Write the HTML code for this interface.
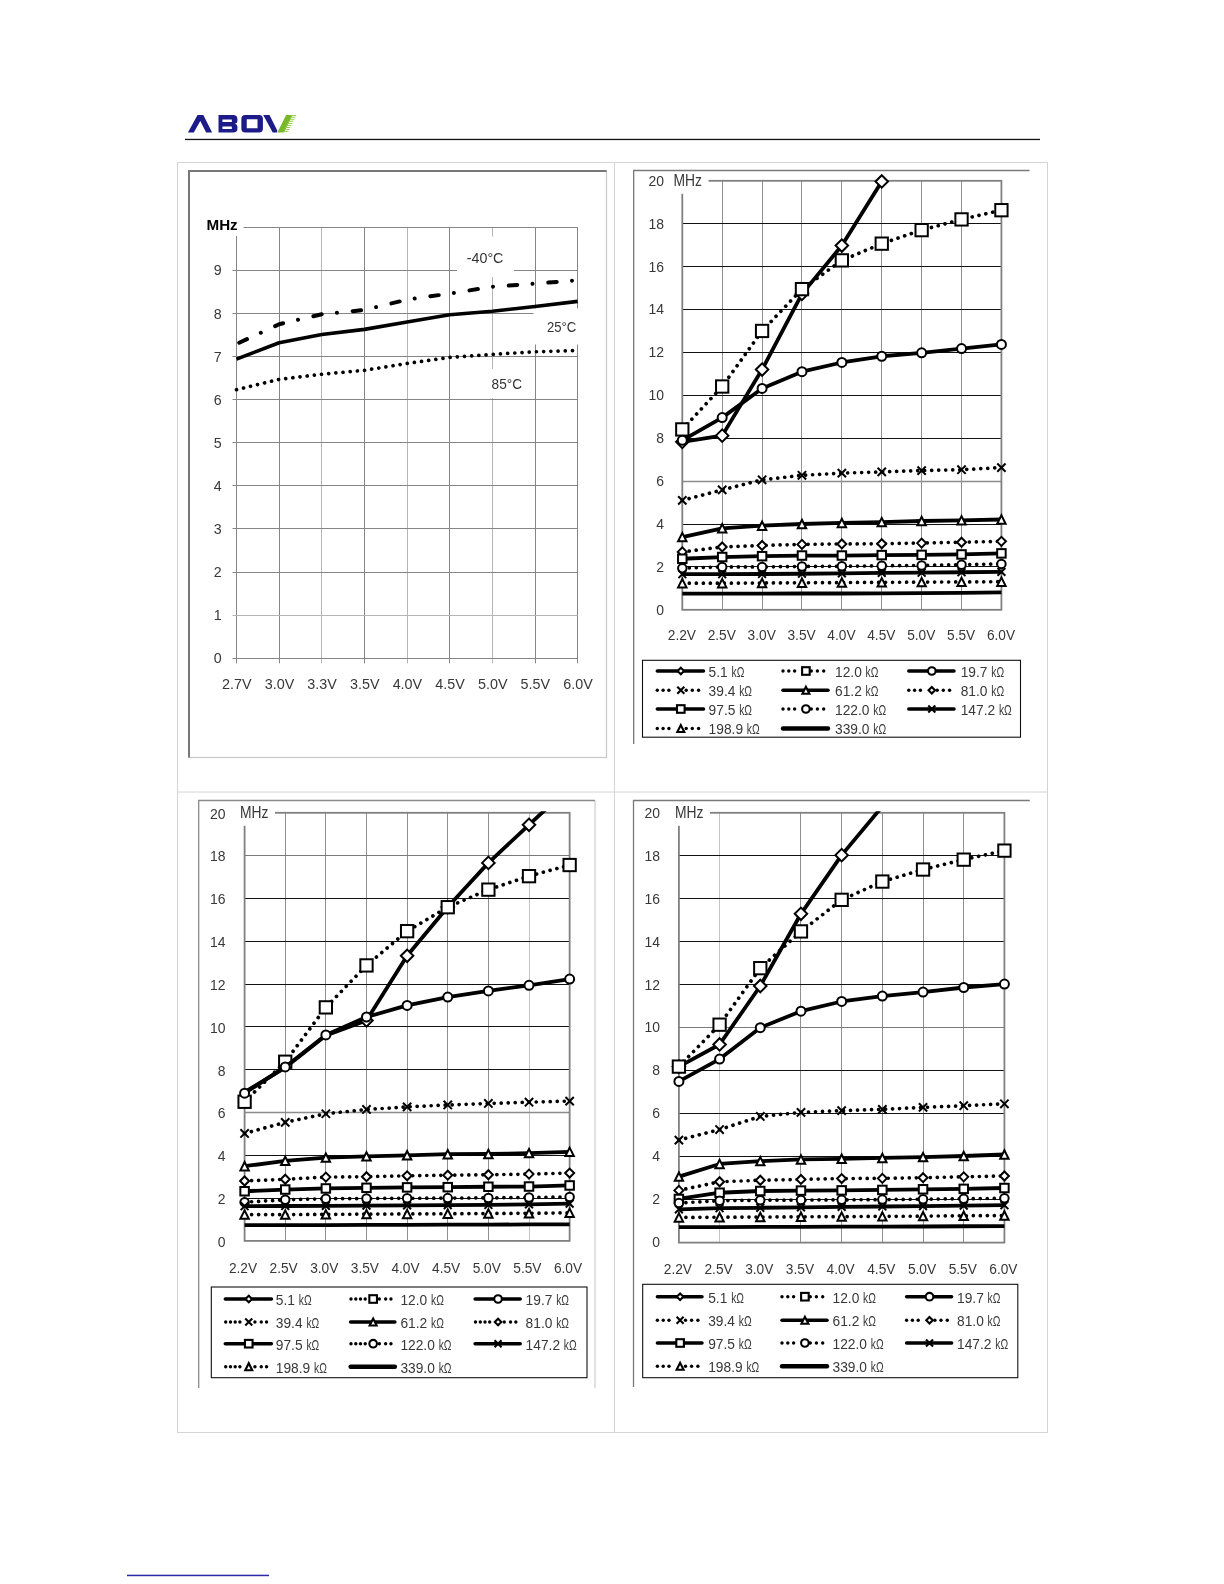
<!DOCTYPE html>
<html><head><meta charset="utf-8"><title>page</title>
<style>
html,body{margin:0;padding:0;background:#fff;}
svg{display:block;will-change:transform;}
text{font-family:"Liberation Sans",sans-serif;}
</style></head><body>
<svg width="1224" height="1584" viewBox="0 0 1224 1584">
<rect x="0" y="0" width="1224" height="1584" fill="#fff"/>
<g transform="translate(184,108) scale(0.09804)">
<path d="M40,250L138,72L197,72L287,250L226,250L166,132L100,250Z" fill="#1d1b87"/>
<path fill-rule="evenodd" d="M352,72H500Q545,72 545,112V130Q545,155 520,160Q545,166 545,192V212Q545,250 500,250H352Z M392,118H488V142H392Z M392,188H488V214H392Z" fill="#1d1b87"/>
<path fill-rule="evenodd" d="M625,72H765Q805,72 805,112V210Q805,250 765,250H625Q585,250 585,210V112Q585,72 625,72Z M640,116H750V206H640Z" fill="#1d1b87"/>
<path d="M808,72L872,72L950,228L948,250L905,250Z" fill="#1d1b87"/>
<path d="M952,250L1042,72L1108,72L1020,250Z" fill="#77b82a"/>
<path d="M1095,72H1142V84H1089Z M1084,94H1136V104H1079Z M1074,114H1126V124H1069Z M1064,134H1114V144H1059Z M1054,154H1104V164H1049Z M1044,174H1094V184H1039Z M1034,194H1084V204H1029Z M1024,214H1074V224H1019Z M1014,234H1064V244H1009Z" fill="#9ccf4d"/>
</g>
<rect x="185" y="138.8" width="855" height="1.3" fill="#111"/>
<rect x="177.5" y="162.5" width="870" height="1270" fill="none" stroke="#d4d4d4" stroke-width="1"/>
<line x1="177.5" y1="792" x2="1047.5" y2="792" stroke="#d4d4d4" stroke-width="1"/>
<line x1="614.5" y1="162.5" x2="614.5" y2="1432.5" stroke="#d4d4d4" stroke-width="1"/>
<rect x="127" y="1574.7" width="142" height="1.5" fill="#2a2aa8"/>
<rect x="189" y="171" width="417.5" height="586.5" fill="#fff" stroke="#c8c8c8" stroke-width="1.2"/>
<path d="M189,757.5V171H606.5" fill="none" stroke="#777" stroke-width="2"/>
<line x1="236.5" y1="227.20" x2="236.5" y2="663.30" stroke="#858585" stroke-width="1"/>
<line x1="279.5" y1="227.20" x2="279.5" y2="663.30" stroke="#858585" stroke-width="1"/>
<line x1="321.5" y1="227.20" x2="321.5" y2="663.30" stroke="#b5b5b5" stroke-width="1"/>
<line x1="364.5" y1="227.20" x2="364.5" y2="663.30" stroke="#858585" stroke-width="1"/>
<line x1="407.5" y1="227.20" x2="407.5" y2="663.30" stroke="#b5b5b5" stroke-width="1"/>
<line x1="449.5" y1="227.20" x2="449.5" y2="663.30" stroke="#858585" stroke-width="1"/>
<line x1="492.5" y1="227.20" x2="492.5" y2="663.30" stroke="#b5b5b5" stroke-width="1"/>
<line x1="535.5" y1="227.20" x2="535.5" y2="663.30" stroke="#858585" stroke-width="1"/>
<line x1="577.5" y1="227.20" x2="577.5" y2="663.30" stroke="#858585" stroke-width="1"/>
<line x1="232.50" y1="658.5" x2="577.70" y2="658.5" stroke="#858585" stroke-width="1"/>
<line x1="232.50" y1="615.5" x2="577.70" y2="615.5" stroke="#b5b5b5" stroke-width="1"/>
<line x1="232.50" y1="572.5" x2="577.70" y2="572.5" stroke="#858585" stroke-width="1"/>
<line x1="232.50" y1="528.5" x2="577.70" y2="528.5" stroke="#858585" stroke-width="1"/>
<line x1="232.50" y1="485.5" x2="577.70" y2="485.5" stroke="#858585" stroke-width="1"/>
<line x1="232.50" y1="442.5" x2="577.70" y2="442.5" stroke="#858585" stroke-width="1"/>
<line x1="232.50" y1="399.5" x2="577.70" y2="399.5" stroke="#858585" stroke-width="1"/>
<line x1="232.50" y1="356.5" x2="577.70" y2="356.5" stroke="#858585" stroke-width="1"/>
<line x1="232.50" y1="313.5" x2="577.70" y2="313.5" stroke="#858585" stroke-width="1"/>
<line x1="232.50" y1="270.5" x2="577.70" y2="270.5" stroke="#858585" stroke-width="1"/>
<line x1="232.50" y1="227.5" x2="577.70" y2="227.5" stroke="#858585" stroke-width="1"/>
<rect x="203" y="212" width="40.5" height="24" fill="#fff"/>
<text x="206.50" y="229.64" font-size="15.2" text-anchor="start" font-weight="bold" fill="#000" >MHz</text>
<text transform="translate(221.70,663.47) scale(0.95,1)" font-size="15" text-anchor="end" font-weight="normal" fill="#383838" >0</text>
<text transform="translate(221.70,620.36) scale(0.95,1)" font-size="15" text-anchor="end" font-weight="normal" fill="#383838" >1</text>
<text transform="translate(221.70,577.25) scale(0.95,1)" font-size="15" text-anchor="end" font-weight="normal" fill="#383838" >2</text>
<text transform="translate(221.70,534.14) scale(0.95,1)" font-size="15" text-anchor="end" font-weight="normal" fill="#383838" >3</text>
<text transform="translate(221.70,491.03) scale(0.95,1)" font-size="15" text-anchor="end" font-weight="normal" fill="#383838" >4</text>
<text transform="translate(221.70,447.92) scale(0.95,1)" font-size="15" text-anchor="end" font-weight="normal" fill="#383838" >5</text>
<text transform="translate(221.70,404.81) scale(0.95,1)" font-size="15" text-anchor="end" font-weight="normal" fill="#383838" >6</text>
<text transform="translate(221.70,361.70) scale(0.95,1)" font-size="15" text-anchor="end" font-weight="normal" fill="#383838" >7</text>
<text transform="translate(221.70,318.59) scale(0.95,1)" font-size="15" text-anchor="end" font-weight="normal" fill="#383838" >8</text>
<text transform="translate(221.70,275.48) scale(0.95,1)" font-size="15" text-anchor="end" font-weight="normal" fill="#383838" >9</text>
<text transform="translate(236.80,688.94) scale(0.945,1)" font-size="15.2" text-anchor="middle" font-weight="normal" fill="#383838" >2.7V</text>
<text transform="translate(279.45,688.94) scale(0.945,1)" font-size="15.2" text-anchor="middle" font-weight="normal" fill="#383838" >3.0V</text>
<text transform="translate(322.10,688.94) scale(0.945,1)" font-size="15.2" text-anchor="middle" font-weight="normal" fill="#383838" >3.3V</text>
<text transform="translate(364.75,688.94) scale(0.945,1)" font-size="15.2" text-anchor="middle" font-weight="normal" fill="#383838" >3.5V</text>
<text transform="translate(407.40,688.94) scale(0.945,1)" font-size="15.2" text-anchor="middle" font-weight="normal" fill="#383838" >4.0V</text>
<text transform="translate(450.05,688.94) scale(0.945,1)" font-size="15.2" text-anchor="middle" font-weight="normal" fill="#383838" >4.5V</text>
<text transform="translate(492.70,688.94) scale(0.945,1)" font-size="15.2" text-anchor="middle" font-weight="normal" fill="#383838" >5.0V</text>
<text transform="translate(535.35,688.94) scale(0.945,1)" font-size="15.2" text-anchor="middle" font-weight="normal" fill="#383838" >5.5V</text>
<text transform="translate(578.00,688.94) scale(0.945,1)" font-size="15.2" text-anchor="middle" font-weight="normal" fill="#383838" >6.0V</text>
<rect x="457" y="236.5" width="57" height="40.5" fill="#fff"/>
<rect x="533.5" y="308.5" width="47" height="36" fill="#fff"/>
<rect x="487" y="369" width="40" height="29" fill="#fff"/>
<polyline points="236.50,389.72 279.15,379.38 321.80,374.21 364.45,370.33 407.10,363.43 449.75,357.39 492.40,354.37 535.05,351.79 577.70,350.49" fill="none" stroke="#000" stroke-width="3.7" stroke-dasharray="0.01 7.2" stroke-linecap="round"/>
<polyline points="236.50,359.12 279.15,342.73 321.80,334.54 364.45,329.37 407.10,322.04 449.75,314.71 492.40,311.26 535.05,306.52 577.70,301.35" fill="none" stroke="#000" stroke-width="3.6" stroke-linejoin="round"/>
<polyline points="236.50,344.03 279.15,324.20 321.80,314.28 364.45,309.97 407.10,299.62 449.75,293.59 492.40,286.69 535.05,283.67 577.70,280.23" fill="none" stroke="#000" stroke-width="4" stroke-dasharray="8.5 15.3 0.01 15.8" stroke-dashoffset="-3" stroke-linecap="round" stroke-linejoin="round"/>
<text transform="translate(466.80,263.19) scale(0.985,1)" font-size="14.5" text-anchor="start" font-weight="normal" fill="#333" >-40&#176;C</text>
<text transform="translate(547.00,331.99) scale(0.905,1)" font-size="14.5" text-anchor="start" font-weight="normal" fill="#333" >25&#176;C</text>
<text transform="translate(491.60,388.89) scale(0.94,1)" font-size="14.5" text-anchor="start" font-weight="normal" fill="#333" >85&#176;C</text>
<path d="M633.7,744V170.5H1029.5" fill="none" stroke="#7a7a7a" stroke-width="1.3"/>
<line x1="722.5" y1="180.80" x2="722.5" y2="609.80" stroke="#909090" stroke-width="1"/>
<line x1="762.5" y1="180.80" x2="762.5" y2="609.80" stroke="#909090" stroke-width="1"/>
<line x1="801.5" y1="180.80" x2="801.5" y2="609.80" stroke="#909090" stroke-width="1"/>
<line x1="841.5" y1="180.80" x2="841.5" y2="609.80" stroke="#909090" stroke-width="1"/>
<line x1="881.5" y1="180.80" x2="881.5" y2="609.80" stroke="#909090" stroke-width="1"/>
<line x1="921.5" y1="180.80" x2="921.5" y2="609.80" stroke="#909090" stroke-width="1"/>
<line x1="961.5" y1="180.80" x2="961.5" y2="609.80" stroke="#909090" stroke-width="1"/>
<line x1="682.30" y1="566.5" x2="1001.42" y2="566.5" stroke="#111" stroke-width="1"/>
<line x1="682.30" y1="524.5" x2="1001.42" y2="524.5" stroke="#111" stroke-width="1"/>
<line x1="682.30" y1="481.5" x2="1001.42" y2="481.5" stroke="#8c8c8c" stroke-width="1.5"/>
<line x1="682.30" y1="438.5" x2="1001.42" y2="438.5" stroke="#111" stroke-width="1"/>
<line x1="682.30" y1="395.5" x2="1001.42" y2="395.5" stroke="#111" stroke-width="1"/>
<line x1="682.30" y1="352.5" x2="1001.42" y2="352.5" stroke="#111" stroke-width="1"/>
<line x1="682.30" y1="309.5" x2="1001.42" y2="309.5" stroke="#111" stroke-width="1"/>
<line x1="682.30" y1="266.5" x2="1001.42" y2="266.5" stroke="#111" stroke-width="1"/>
<line x1="682.30" y1="223.5" x2="1001.42" y2="223.5" stroke="#111" stroke-width="1"/>
<rect x="682.30" y="180.80" width="319.12" height="429.00" fill="none" stroke="#808080" stroke-width="1.8"/>
<rect x="671.50" y="174.80" width="37" height="19" fill="#fff"/>
<text transform="translate(673.50,186.19) scale(0.872,1)" font-size="15.9" text-anchor="start" font-weight="normal" fill="#383838" >MHz</text>
<text transform="translate(664.00,614.78) scale(0.912,1)" font-size="15.3" text-anchor="end" font-weight="normal" fill="#383838" >0</text>
<text transform="translate(664.00,571.88) scale(0.912,1)" font-size="15.3" text-anchor="end" font-weight="normal" fill="#383838" >2</text>
<text transform="translate(664.00,528.98) scale(0.912,1)" font-size="15.3" text-anchor="end" font-weight="normal" fill="#383838" >4</text>
<text transform="translate(664.00,486.08) scale(0.912,1)" font-size="15.3" text-anchor="end" font-weight="normal" fill="#383838" >6</text>
<text transform="translate(664.00,443.18) scale(0.912,1)" font-size="15.3" text-anchor="end" font-weight="normal" fill="#383838" >8</text>
<text transform="translate(664.00,400.28) scale(0.912,1)" font-size="15.3" text-anchor="end" font-weight="normal" fill="#383838" >10</text>
<text transform="translate(664.00,357.38) scale(0.912,1)" font-size="15.3" text-anchor="end" font-weight="normal" fill="#383838" >12</text>
<text transform="translate(664.00,314.48) scale(0.912,1)" font-size="15.3" text-anchor="end" font-weight="normal" fill="#383838" >14</text>
<text transform="translate(664.00,271.58) scale(0.912,1)" font-size="15.3" text-anchor="end" font-weight="normal" fill="#383838" >16</text>
<text transform="translate(664.00,228.68) scale(0.912,1)" font-size="15.3" text-anchor="end" font-weight="normal" fill="#383838" >18</text>
<text transform="translate(664.00,185.78) scale(0.912,1)" font-size="15.3" text-anchor="end" font-weight="normal" fill="#383838" >20</text>
<text transform="translate(681.90,640.25) scale(0.885,1)" font-size="15.5" text-anchor="middle" font-weight="normal" fill="#383838" >2.2V</text>
<text transform="translate(721.79,640.25) scale(0.885,1)" font-size="15.5" text-anchor="middle" font-weight="normal" fill="#383838" >2.5V</text>
<text transform="translate(761.68,640.25) scale(0.885,1)" font-size="15.5" text-anchor="middle" font-weight="normal" fill="#383838" >3.0V</text>
<text transform="translate(801.57,640.25) scale(0.885,1)" font-size="15.5" text-anchor="middle" font-weight="normal" fill="#383838" >3.5V</text>
<text transform="translate(841.46,640.25) scale(0.885,1)" font-size="15.5" text-anchor="middle" font-weight="normal" fill="#383838" >4.0V</text>
<text transform="translate(881.35,640.25) scale(0.885,1)" font-size="15.5" text-anchor="middle" font-weight="normal" fill="#383838" >4.5V</text>
<text transform="translate(921.24,640.25) scale(0.885,1)" font-size="15.5" text-anchor="middle" font-weight="normal" fill="#383838" >5.0V</text>
<text transform="translate(961.13,640.25) scale(0.885,1)" font-size="15.5" text-anchor="middle" font-weight="normal" fill="#383838" >5.5V</text>
<text transform="translate(1001.02,640.25) scale(0.885,1)" font-size="15.5" text-anchor="middle" font-weight="normal" fill="#383838" >6.0V</text>
<clipPath id="c2"><rect x="672.30" y="179.30" width="344.12" height="439.00"/></clipPath>
<polyline clip-path="url(#c2)" points="682.30,441.85 722.19,435.63 762.08,369.56 801.97,293.84 841.86,245.58 881.75,181.44" fill="none" stroke="#000" stroke-width="3.8" stroke-linejoin="round"/>
<path d="M676.05,441.85L682.30,435.60L688.55,441.85L682.30,448.10Z" fill="#fff" stroke="#000" stroke-width="2.0"/>
<path d="M715.94,435.63L722.19,429.38L728.44,435.63L722.19,441.88Z" fill="#fff" stroke="#000" stroke-width="2.0"/>
<path d="M755.83,369.56L762.08,363.31L768.33,369.56L762.08,375.81Z" fill="#fff" stroke="#000" stroke-width="2.0"/>
<path d="M795.72,293.84L801.97,287.59L808.22,293.84L801.97,300.09Z" fill="#fff" stroke="#000" stroke-width="2.0"/>
<path d="M835.61,245.58L841.86,239.33L848.11,245.58L841.86,251.83Z" fill="#fff" stroke="#000" stroke-width="2.0"/>
<path d="M875.50,181.44L881.75,175.19L888.00,181.44L881.75,187.69Z" fill="#fff" stroke="#000" stroke-width="2.0"/>
<polyline clip-path="url(#c2)" points="682.30,429.41 722.19,386.51 762.08,330.95 801.97,289.12 841.86,260.38 881.75,243.65 921.64,230.13 961.53,219.41 1001.42,210.19" fill="none" stroke="#000" stroke-width="3.7" stroke-dasharray="0.01 7" stroke-linecap="round"/>
<rect x="676.15" y="423.26" width="12.3" height="12.3" fill="#fff" stroke="#000" stroke-width="2.0"/>
<rect x="716.04" y="380.36" width="12.3" height="12.3" fill="#fff" stroke="#000" stroke-width="2.0"/>
<rect x="755.93" y="324.80" width="12.3" height="12.3" fill="#fff" stroke="#000" stroke-width="2.0"/>
<rect x="795.82" y="282.97" width="12.3" height="12.3" fill="#fff" stroke="#000" stroke-width="2.0"/>
<rect x="835.71" y="254.23" width="12.3" height="12.3" fill="#fff" stroke="#000" stroke-width="2.0"/>
<rect x="875.60" y="237.50" width="12.3" height="12.3" fill="#fff" stroke="#000" stroke-width="2.0"/>
<rect x="915.49" y="223.98" width="12.3" height="12.3" fill="#fff" stroke="#000" stroke-width="2.0"/>
<rect x="955.38" y="213.26" width="12.3" height="12.3" fill="#fff" stroke="#000" stroke-width="2.0"/>
<rect x="995.27" y="204.04" width="12.3" height="12.3" fill="#fff" stroke="#000" stroke-width="2.0"/>
<polyline clip-path="url(#c2)" points="682.30,440.34 722.19,417.61 762.08,388.44 801.97,371.70 841.86,362.48 881.75,356.26 921.64,352.83 961.53,348.54 1001.42,344.46" fill="none" stroke="#000" stroke-width="3.8" stroke-linejoin="round"/>
<circle cx="682.30" cy="440.34" r="4.5" fill="#fff" stroke="#000" stroke-width="2.0"/>
<circle cx="722.19" cy="417.61" r="4.5" fill="#fff" stroke="#000" stroke-width="2.0"/>
<circle cx="762.08" cy="388.44" r="4.5" fill="#fff" stroke="#000" stroke-width="2.0"/>
<circle cx="801.97" cy="371.70" r="4.5" fill="#fff" stroke="#000" stroke-width="2.0"/>
<circle cx="841.86" cy="362.48" r="4.5" fill="#fff" stroke="#000" stroke-width="2.0"/>
<circle cx="881.75" cy="356.26" r="4.5" fill="#fff" stroke="#000" stroke-width="2.0"/>
<circle cx="921.64" cy="352.83" r="4.5" fill="#fff" stroke="#000" stroke-width="2.0"/>
<circle cx="961.53" cy="348.54" r="4.5" fill="#fff" stroke="#000" stroke-width="2.0"/>
<circle cx="1001.42" cy="344.46" r="4.5" fill="#fff" stroke="#000" stroke-width="2.0"/>
<polyline clip-path="url(#c2)" points="682.30,500.40 722.19,489.89 762.08,479.81 801.97,475.31 841.86,473.16 881.75,471.88 921.64,470.59 961.53,469.73 1001.42,467.59" fill="none" stroke="#000" stroke-width="3.7" stroke-dasharray="0.01 7" stroke-linecap="round"/>
<path d="M678.15,496.25L686.45,504.55M678.15,504.55L686.45,496.25" fill="none" stroke="#000" stroke-width="2.0"/>
<path d="M718.04,485.74L726.34,494.04M718.04,494.04L726.34,485.74" fill="none" stroke="#000" stroke-width="2.0"/>
<path d="M757.93,475.66L766.23,483.96M757.93,483.96L766.23,475.66" fill="none" stroke="#000" stroke-width="2.0"/>
<path d="M797.82,471.16L806.12,479.46M797.82,479.46L806.12,471.16" fill="none" stroke="#000" stroke-width="2.0"/>
<path d="M837.71,469.01L846.01,477.31M837.71,477.31L846.01,469.01" fill="none" stroke="#000" stroke-width="2.0"/>
<path d="M877.60,467.73L885.90,476.03M877.60,476.03L885.90,467.73" fill="none" stroke="#000" stroke-width="2.0"/>
<path d="M917.49,466.44L925.79,474.74M917.49,474.74L925.79,466.44" fill="none" stroke="#000" stroke-width="2.0"/>
<path d="M957.38,465.58L965.68,473.88M957.38,473.88L965.68,465.58" fill="none" stroke="#000" stroke-width="2.0"/>
<path d="M997.27,463.44L1005.57,471.74M997.27,471.74L1005.57,463.44" fill="none" stroke="#000" stroke-width="2.0"/>
<polyline clip-path="url(#c2)" points="682.30,537.08 722.19,528.29 762.08,525.72 801.97,524.00 841.86,522.93 881.75,522.07 921.64,521.00 961.53,520.35 1001.42,519.50" fill="none" stroke="#000" stroke-width="3.8" stroke-linejoin="round"/>
<path d="M678.10,541.28L682.30,532.88L686.50,541.28Z" fill="#fff" stroke="#000" stroke-width="2.0"/>
<path d="M717.99,532.49L722.19,524.09L726.39,532.49Z" fill="#fff" stroke="#000" stroke-width="2.0"/>
<path d="M757.88,529.92L762.08,521.52L766.28,529.92Z" fill="#fff" stroke="#000" stroke-width="2.0"/>
<path d="M797.77,528.20L801.97,519.80L806.17,528.20Z" fill="#fff" stroke="#000" stroke-width="2.0"/>
<path d="M837.66,527.13L841.86,518.73L846.06,527.13Z" fill="#fff" stroke="#000" stroke-width="2.0"/>
<path d="M877.55,526.27L881.75,517.87L885.95,526.27Z" fill="#fff" stroke="#000" stroke-width="2.0"/>
<path d="M917.44,525.20L921.64,516.80L925.84,525.20Z" fill="#fff" stroke="#000" stroke-width="2.0"/>
<path d="M957.33,524.55L961.53,516.15L965.73,524.55Z" fill="#fff" stroke="#000" stroke-width="2.0"/>
<path d="M997.22,523.70L1001.42,515.30L1005.62,523.70Z" fill="#fff" stroke="#000" stroke-width="2.0"/>
<polyline clip-path="url(#c2)" points="682.30,551.88 722.19,546.95 762.08,545.45 801.97,544.38 841.86,543.95 881.75,543.73 921.64,543.09 961.53,542.23 1001.42,541.37" fill="none" stroke="#000" stroke-width="3.7" stroke-dasharray="0.01 7" stroke-linecap="round"/>
<path d="M677.80,551.88L682.30,547.38L686.80,551.88L682.30,556.38Z" fill="#fff" stroke="#000" stroke-width="2.0"/>
<path d="M717.69,546.95L722.19,542.45L726.69,546.95L722.19,551.45Z" fill="#fff" stroke="#000" stroke-width="2.0"/>
<path d="M757.58,545.45L762.08,540.95L766.58,545.45L762.08,549.95Z" fill="#fff" stroke="#000" stroke-width="2.0"/>
<path d="M797.47,544.38L801.97,539.88L806.47,544.38L801.97,548.88Z" fill="#fff" stroke="#000" stroke-width="2.0"/>
<path d="M837.36,543.95L841.86,539.45L846.36,543.95L841.86,548.45Z" fill="#fff" stroke="#000" stroke-width="2.0"/>
<path d="M877.25,543.73L881.75,539.23L886.25,543.73L881.75,548.23Z" fill="#fff" stroke="#000" stroke-width="2.0"/>
<path d="M917.14,543.09L921.64,538.59L926.14,543.09L921.64,547.59Z" fill="#fff" stroke="#000" stroke-width="2.0"/>
<path d="M957.03,542.23L961.53,537.73L966.03,542.23L961.53,546.73Z" fill="#fff" stroke="#000" stroke-width="2.0"/>
<path d="M996.92,541.37L1001.42,536.87L1005.92,541.37L1001.42,545.87Z" fill="#fff" stroke="#000" stroke-width="2.0"/>
<polyline clip-path="url(#c2)" points="682.30,558.75 722.19,557.03 762.08,556.17 801.97,555.53 841.86,555.53 881.75,555.10 921.64,554.89 961.53,554.46 1001.42,553.39" fill="none" stroke="#000" stroke-width="3.8" stroke-linejoin="round"/>
<rect x="678.05" y="554.50" width="8.5" height="8.5" fill="#fff" stroke="#000" stroke-width="2.0"/>
<rect x="717.94" y="552.78" width="8.5" height="8.5" fill="#fff" stroke="#000" stroke-width="2.0"/>
<rect x="757.83" y="551.92" width="8.5" height="8.5" fill="#fff" stroke="#000" stroke-width="2.0"/>
<rect x="797.72" y="551.28" width="8.5" height="8.5" fill="#fff" stroke="#000" stroke-width="2.0"/>
<rect x="837.61" y="551.28" width="8.5" height="8.5" fill="#fff" stroke="#000" stroke-width="2.0"/>
<rect x="877.50" y="550.85" width="8.5" height="8.5" fill="#fff" stroke="#000" stroke-width="2.0"/>
<rect x="917.39" y="550.64" width="8.5" height="8.5" fill="#fff" stroke="#000" stroke-width="2.0"/>
<rect x="957.28" y="550.21" width="8.5" height="8.5" fill="#fff" stroke="#000" stroke-width="2.0"/>
<rect x="997.17" y="549.14" width="8.5" height="8.5" fill="#fff" stroke="#000" stroke-width="2.0"/>
<polyline clip-path="url(#c2)" points="682.30,568.19 722.19,566.90 762.08,566.90 801.97,566.47 841.86,566.26 881.75,565.83 921.64,565.40 961.53,564.75 1001.42,563.90" fill="none" stroke="#000" stroke-width="3.7" stroke-dasharray="0.01 7" stroke-linecap="round"/>
<circle cx="682.30" cy="568.19" r="4.25" fill="#fff" stroke="#000" stroke-width="2.0"/>
<circle cx="722.19" cy="566.90" r="4.25" fill="#fff" stroke="#000" stroke-width="2.0"/>
<circle cx="762.08" cy="566.90" r="4.25" fill="#fff" stroke="#000" stroke-width="2.0"/>
<circle cx="801.97" cy="566.47" r="4.25" fill="#fff" stroke="#000" stroke-width="2.0"/>
<circle cx="841.86" cy="566.26" r="4.25" fill="#fff" stroke="#000" stroke-width="2.0"/>
<circle cx="881.75" cy="565.83" r="4.25" fill="#fff" stroke="#000" stroke-width="2.0"/>
<circle cx="921.64" cy="565.40" r="4.25" fill="#fff" stroke="#000" stroke-width="2.0"/>
<circle cx="961.53" cy="564.75" r="4.25" fill="#fff" stroke="#000" stroke-width="2.0"/>
<circle cx="1001.42" cy="563.90" r="4.25" fill="#fff" stroke="#000" stroke-width="2.0"/>
<polyline clip-path="url(#c2)" points="682.30,574.19 722.19,574.19 762.08,573.98 801.97,573.76 841.86,573.33 881.75,572.91 921.64,572.69 961.53,572.26 1001.42,571.83" fill="none" stroke="#000" stroke-width="3.8" stroke-linejoin="round"/>
<path d="M678.40,570.29L686.20,578.09M678.40,578.09L686.20,570.29" fill="none" stroke="#000" stroke-width="2.0"/>
<path d="M718.29,570.29L726.09,578.09M718.29,578.09L726.09,570.29" fill="none" stroke="#000" stroke-width="2.0"/>
<path d="M758.18,570.08L765.98,577.88M758.18,577.88L765.98,570.08" fill="none" stroke="#000" stroke-width="2.0"/>
<path d="M798.07,569.86L805.87,577.66M798.07,577.66L805.87,569.86" fill="none" stroke="#000" stroke-width="2.0"/>
<path d="M837.96,569.43L845.76,577.23M837.96,577.23L845.76,569.43" fill="none" stroke="#000" stroke-width="2.0"/>
<path d="M877.85,569.01L885.65,576.81M877.85,576.81L885.65,569.01" fill="none" stroke="#000" stroke-width="2.0"/>
<path d="M917.74,568.79L925.54,576.59M917.74,576.59L925.54,568.79" fill="none" stroke="#000" stroke-width="2.0"/>
<path d="M957.63,568.36L965.43,576.16M957.63,576.16L965.43,568.36" fill="none" stroke="#000" stroke-width="2.0"/>
<path d="M997.52,567.93L1005.32,575.73M997.52,575.73L1005.32,567.93" fill="none" stroke="#000" stroke-width="2.0"/>
<polyline clip-path="url(#c2)" points="682.30,583.20 722.19,583.20 762.08,582.99 801.97,582.77 841.86,582.56 881.75,582.34 921.64,582.13 961.53,581.91 1001.42,581.70" fill="none" stroke="#000" stroke-width="3.7" stroke-dasharray="0.01 7" stroke-linecap="round"/>
<path d="M678.10,587.40L682.30,579.00L686.50,587.40Z" fill="#fff" stroke="#000" stroke-width="2.0"/>
<path d="M717.99,587.40L722.19,579.00L726.39,587.40Z" fill="#fff" stroke="#000" stroke-width="2.0"/>
<path d="M757.88,587.19L762.08,578.79L766.28,587.19Z" fill="#fff" stroke="#000" stroke-width="2.0"/>
<path d="M797.77,586.97L801.97,578.57L806.17,586.97Z" fill="#fff" stroke="#000" stroke-width="2.0"/>
<path d="M837.66,586.76L841.86,578.36L846.06,586.76Z" fill="#fff" stroke="#000" stroke-width="2.0"/>
<path d="M877.55,586.54L881.75,578.14L885.95,586.54Z" fill="#fff" stroke="#000" stroke-width="2.0"/>
<path d="M917.44,586.33L921.64,577.93L925.84,586.33Z" fill="#fff" stroke="#000" stroke-width="2.0"/>
<path d="M957.33,586.12L961.53,577.71L965.73,586.12Z" fill="#fff" stroke="#000" stroke-width="2.0"/>
<path d="M997.22,585.90L1001.42,577.50L1005.62,585.90Z" fill="#fff" stroke="#000" stroke-width="2.0"/>
<polyline clip-path="url(#c2)" points="682.30,593.71 722.19,593.71 762.08,593.71 801.97,593.50 841.86,593.50 881.75,593.28 921.64,593.07 961.53,592.85 1001.42,592.43" fill="none" stroke="#000" stroke-width="3.8" stroke-linejoin="round"/>
<rect x="642.5" y="660.3" width="378.0" height="76.90000000000009" fill="#fff" stroke="#111" stroke-width="1.1"/>
<line x1="657.3" y1="671" x2="703.5" y2="671" stroke="#000" stroke-width="3.5" stroke-linecap="round"/>
<path d="M677.55,671.00L680.80,667.75L684.05,671.00L680.80,674.25Z" fill="#fff" stroke="#000" stroke-width="2.1"/>
<text transform="translate(708.60,676.99) scale(0.95,1)" font-size="14.5" text-anchor="start" font-weight="normal" fill="#383838" >5.1 <tspan textLength="13.5" lengthAdjust="spacingAndGlyphs">k&#937;</tspan></text>
<circle cx="783.00" cy="671" r="1.7" fill="#000"/>
<circle cx="788.80" cy="671" r="1.7" fill="#000"/>
<circle cx="794.60" cy="671" r="1.7" fill="#000"/>
<circle cx="811.30" cy="671" r="1.7" fill="#000"/>
<circle cx="817.40" cy="671" r="1.7" fill="#000"/>
<circle cx="823.70" cy="671" r="1.7" fill="#000"/>
<rect x="802.10" y="667.20" width="7.6" height="7.6" fill="#fff" stroke="#000" stroke-width="2.1"/>
<text transform="translate(835.00,676.99) scale(0.95,1)" font-size="14.5" text-anchor="start" font-weight="normal" fill="#383838" >12.0 <tspan textLength="13.5" lengthAdjust="spacingAndGlyphs">k&#937;</tspan></text>
<line x1="908.8" y1="671" x2="954" y2="671" stroke="#000" stroke-width="3.5" stroke-linecap="round"/>
<circle cx="931.80" cy="671.00" r="3.8" fill="#fff" stroke="#000" stroke-width="2.1"/>
<text transform="translate(960.70,676.99) scale(0.95,1)" font-size="14.5" text-anchor="start" font-weight="normal" fill="#383838" >19.7 <tspan textLength="13.5" lengthAdjust="spacingAndGlyphs">k&#937;</tspan></text>
<circle cx="657.30" cy="690.3" r="1.7" fill="#000"/>
<circle cx="663.10" cy="690.3" r="1.7" fill="#000"/>
<circle cx="668.90" cy="690.3" r="1.7" fill="#000"/>
<circle cx="686.20" cy="690.3" r="1.7" fill="#000"/>
<circle cx="692.30" cy="690.3" r="1.7" fill="#000"/>
<circle cx="698.60" cy="690.3" r="1.7" fill="#000"/>
<path d="M677.30,686.80L684.30,693.80M677.30,693.80L684.30,686.80" fill="none" stroke="#000" stroke-width="2.1"/>
<text transform="translate(708.60,696.29) scale(0.95,1)" font-size="14.5" text-anchor="start" font-weight="normal" fill="#383838" >39.4 <tspan textLength="13.5" lengthAdjust="spacingAndGlyphs">k&#937;</tspan></text>
<line x1="783" y1="690.3" x2="828" y2="690.3" stroke="#000" stroke-width="3.5" stroke-linecap="round"/>
<path d="M802.40,693.80L805.90,686.80L809.40,693.80Z" fill="#fff" stroke="#000" stroke-width="2.1"/>
<text transform="translate(835.00,696.29) scale(0.95,1)" font-size="14.5" text-anchor="start" font-weight="normal" fill="#383838" >61.2 <tspan textLength="13.5" lengthAdjust="spacingAndGlyphs">k&#937;</tspan></text>
<circle cx="908.80" cy="690.3" r="1.7" fill="#000"/>
<circle cx="914.60" cy="690.3" r="1.7" fill="#000"/>
<circle cx="920.40" cy="690.3" r="1.7" fill="#000"/>
<circle cx="937.20" cy="690.3" r="1.7" fill="#000"/>
<circle cx="943.30" cy="690.3" r="1.7" fill="#000"/>
<circle cx="949.60" cy="690.3" r="1.7" fill="#000"/>
<path d="M928.55,690.30L931.80,687.05L935.05,690.30L931.80,693.55Z" fill="#fff" stroke="#000" stroke-width="2.1"/>
<text transform="translate(960.70,696.29) scale(0.95,1)" font-size="14.5" text-anchor="start" font-weight="normal" fill="#383838" >81.0 <tspan textLength="13.5" lengthAdjust="spacingAndGlyphs">k&#937;</tspan></text>
<line x1="657.3" y1="709" x2="703.5" y2="709" stroke="#000" stroke-width="3.5" stroke-linecap="round"/>
<rect x="677.00" y="705.20" width="7.6" height="7.6" fill="#fff" stroke="#000" stroke-width="2.1"/>
<text transform="translate(708.60,714.99) scale(0.95,1)" font-size="14.5" text-anchor="start" font-weight="normal" fill="#383838" >97.5 <tspan textLength="13.5" lengthAdjust="spacingAndGlyphs">k&#937;</tspan></text>
<circle cx="783.00" cy="709" r="1.7" fill="#000"/>
<circle cx="788.80" cy="709" r="1.7" fill="#000"/>
<circle cx="794.60" cy="709" r="1.7" fill="#000"/>
<circle cx="811.30" cy="709" r="1.7" fill="#000"/>
<circle cx="817.40" cy="709" r="1.7" fill="#000"/>
<circle cx="823.70" cy="709" r="1.7" fill="#000"/>
<circle cx="805.90" cy="709.00" r="3.8" fill="#fff" stroke="#000" stroke-width="2.1"/>
<text transform="translate(835.00,714.99) scale(0.95,1)" font-size="14.5" text-anchor="start" font-weight="normal" fill="#383838" >122.0 <tspan textLength="13.5" lengthAdjust="spacingAndGlyphs">k&#937;</tspan></text>
<line x1="908.8" y1="709" x2="954" y2="709" stroke="#000" stroke-width="3.5" stroke-linecap="round"/>
<path d="M928.30,705.50L935.30,712.50M928.30,712.50L935.30,705.50" fill="none" stroke="#000" stroke-width="2.1"/>
<text transform="translate(960.70,714.99) scale(0.95,1)" font-size="14.5" text-anchor="start" font-weight="normal" fill="#383838" >147.2 <tspan textLength="13.5" lengthAdjust="spacingAndGlyphs">k&#937;</tspan></text>
<circle cx="657.30" cy="728.5" r="1.7" fill="#000"/>
<circle cx="663.10" cy="728.5" r="1.7" fill="#000"/>
<circle cx="668.90" cy="728.5" r="1.7" fill="#000"/>
<circle cx="686.20" cy="728.5" r="1.7" fill="#000"/>
<circle cx="692.30" cy="728.5" r="1.7" fill="#000"/>
<circle cx="698.60" cy="728.5" r="1.7" fill="#000"/>
<path d="M677.30,732.00L680.80,725.00L684.30,732.00Z" fill="#fff" stroke="#000" stroke-width="2.1"/>
<text transform="translate(708.60,734.49) scale(0.95,1)" font-size="14.5" text-anchor="start" font-weight="normal" fill="#383838" >198.9 <tspan textLength="13.5" lengthAdjust="spacingAndGlyphs">k&#937;</tspan></text>
<line x1="783" y1="728.5" x2="828" y2="728.5" stroke="#000" stroke-width="4.4" stroke-linecap="round"/>
<text transform="translate(835.00,734.49) scale(0.95,1)" font-size="14.5" text-anchor="start" font-weight="normal" fill="#383838" >339.0 <tspan textLength="13.5" lengthAdjust="spacingAndGlyphs">k&#937;</tspan></text>
<path d="M595,800.5V1388" fill="none" stroke="#cdcdcd" stroke-width="1.2"/><path d="M198.7,1388V800.5H595" fill="none" stroke="#8a8a8a" stroke-width="1.3"/>
<line x1="285.5" y1="812.80" x2="285.5" y2="1240.90" stroke="#909090" stroke-width="1"/>
<line x1="325.5" y1="812.80" x2="325.5" y2="1240.90" stroke="#909090" stroke-width="1"/>
<line x1="366.5" y1="812.80" x2="366.5" y2="1240.90" stroke="#909090" stroke-width="1"/>
<line x1="407.5" y1="812.80" x2="407.5" y2="1240.90" stroke="#909090" stroke-width="1"/>
<line x1="447.5" y1="812.80" x2="447.5" y2="1240.90" stroke="#909090" stroke-width="1"/>
<line x1="488.5" y1="812.80" x2="488.5" y2="1240.90" stroke="#909090" stroke-width="1"/>
<line x1="529.5" y1="812.80" x2="529.5" y2="1240.90" stroke="#c4c4c4" stroke-width="1"/>
<line x1="244.60" y1="1198.5" x2="569.64" y2="1198.5" stroke="#111" stroke-width="1"/>
<line x1="244.60" y1="1155.5" x2="569.64" y2="1155.5" stroke="#111" stroke-width="1"/>
<line x1="244.60" y1="1112.5" x2="569.64" y2="1112.5" stroke="#8c8c8c" stroke-width="1.5"/>
<line x1="244.60" y1="1069.5" x2="569.64" y2="1069.5" stroke="#111" stroke-width="1"/>
<line x1="244.60" y1="1026.5" x2="569.64" y2="1026.5" stroke="#111" stroke-width="1"/>
<line x1="244.60" y1="984.5" x2="569.64" y2="984.5" stroke="#111" stroke-width="1"/>
<line x1="244.60" y1="941.5" x2="569.64" y2="941.5" stroke="#111" stroke-width="1"/>
<line x1="244.60" y1="898.5" x2="569.64" y2="898.5" stroke="#111" stroke-width="1"/>
<line x1="244.60" y1="855.5" x2="569.64" y2="855.5" stroke="#7a7a7a" stroke-width="1"/>
<rect x="244.60" y="812.80" width="325.04" height="428.10" fill="none" stroke="#808080" stroke-width="1.8"/>
<rect x="238.00" y="806.80" width="37" height="19" fill="#fff"/>
<text transform="translate(240.00,818.19) scale(0.872,1)" font-size="15.9" text-anchor="start" font-weight="normal" fill="#383838" >MHz</text>
<text transform="translate(225.50,1246.78) scale(0.912,1)" font-size="15.3" text-anchor="end" font-weight="normal" fill="#383838" >0</text>
<text transform="translate(225.50,1203.97) scale(0.912,1)" font-size="15.3" text-anchor="end" font-weight="normal" fill="#383838" >2</text>
<text transform="translate(225.50,1161.16) scale(0.912,1)" font-size="15.3" text-anchor="end" font-weight="normal" fill="#383838" >4</text>
<text transform="translate(225.50,1118.35) scale(0.912,1)" font-size="15.3" text-anchor="end" font-weight="normal" fill="#383838" >6</text>
<text transform="translate(225.50,1075.54) scale(0.912,1)" font-size="15.3" text-anchor="end" font-weight="normal" fill="#383838" >8</text>
<text transform="translate(225.50,1032.73) scale(0.912,1)" font-size="15.3" text-anchor="end" font-weight="normal" fill="#383838" >10</text>
<text transform="translate(225.50,989.92) scale(0.912,1)" font-size="15.3" text-anchor="end" font-weight="normal" fill="#383838" >12</text>
<text transform="translate(225.50,947.11) scale(0.912,1)" font-size="15.3" text-anchor="end" font-weight="normal" fill="#383838" >14</text>
<text transform="translate(225.50,904.30) scale(0.912,1)" font-size="15.3" text-anchor="end" font-weight="normal" fill="#383838" >16</text>
<text transform="translate(225.50,861.49) scale(0.912,1)" font-size="15.3" text-anchor="end" font-weight="normal" fill="#383838" >18</text>
<text transform="translate(225.50,818.68) scale(0.912,1)" font-size="15.3" text-anchor="end" font-weight="normal" fill="#383838" >20</text>
<text transform="translate(243.00,1272.55) scale(0.885,1)" font-size="15.5" text-anchor="middle" font-weight="normal" fill="#383838" >2.2V</text>
<text transform="translate(283.63,1272.55) scale(0.885,1)" font-size="15.5" text-anchor="middle" font-weight="normal" fill="#383838" >2.5V</text>
<text transform="translate(324.26,1272.55) scale(0.885,1)" font-size="15.5" text-anchor="middle" font-weight="normal" fill="#383838" >3.0V</text>
<text transform="translate(364.89,1272.55) scale(0.885,1)" font-size="15.5" text-anchor="middle" font-weight="normal" fill="#383838" >3.5V</text>
<text transform="translate(405.52,1272.55) scale(0.885,1)" font-size="15.5" text-anchor="middle" font-weight="normal" fill="#383838" >4.0V</text>
<text transform="translate(446.15,1272.55) scale(0.885,1)" font-size="15.5" text-anchor="middle" font-weight="normal" fill="#383838" >4.5V</text>
<text transform="translate(486.78,1272.55) scale(0.885,1)" font-size="15.5" text-anchor="middle" font-weight="normal" fill="#383838" >5.0V</text>
<text transform="translate(527.41,1272.55) scale(0.885,1)" font-size="15.5" text-anchor="middle" font-weight="normal" fill="#383838" >5.5V</text>
<text transform="translate(568.04,1272.55) scale(0.885,1)" font-size="15.5" text-anchor="middle" font-weight="normal" fill="#383838" >6.0V</text>
<clipPath id="c3"><rect x="234.60" y="811.30" width="350.04" height="438.10"/></clipPath>
<polyline clip-path="url(#c3)" points="244.60,1092.14 285.23,1067.52 325.86,1035.41 366.49,1020.43 407.12,955.79 447.75,906.98 488.38,862.89 529.01,824.79 569.64,787.11" fill="none" stroke="#000" stroke-width="3.8" stroke-linejoin="round"/>
<path d="M360.24,1020.43L366.49,1014.18L372.74,1020.43L366.49,1026.68Z" fill="#fff" stroke="#000" stroke-width="2.0"/>
<path d="M400.87,955.79L407.12,949.54L413.37,955.79L407.12,962.04Z" fill="#fff" stroke="#000" stroke-width="2.0"/>
<path d="M441.50,906.98L447.75,900.73L454.00,906.98L447.75,913.23Z" fill="#fff" stroke="#000" stroke-width="2.0"/>
<path d="M482.13,862.89L488.38,856.64L494.63,862.89L488.38,869.14Z" fill="#fff" stroke="#000" stroke-width="2.0"/>
<path d="M522.76,824.79L529.01,818.54L535.26,824.79L529.01,831.04Z" fill="#fff" stroke="#000" stroke-width="2.0"/>
<polyline clip-path="url(#c3)" points="244.60,1101.77 285.23,1061.74 325.86,1007.37 366.49,965.42 407.12,931.17 447.75,907.20 488.38,889.64 529.01,876.16 569.64,865.03" fill="none" stroke="#000" stroke-width="3.7" stroke-dasharray="0.01 7" stroke-linecap="round"/>
<rect x="238.45" y="1095.62" width="12.3" height="12.3" fill="#fff" stroke="#000" stroke-width="2.0"/>
<rect x="279.08" y="1055.59" width="12.3" height="12.3" fill="#fff" stroke="#000" stroke-width="2.0"/>
<rect x="319.71" y="1001.22" width="12.3" height="12.3" fill="#fff" stroke="#000" stroke-width="2.0"/>
<rect x="360.34" y="959.27" width="12.3" height="12.3" fill="#fff" stroke="#000" stroke-width="2.0"/>
<rect x="400.97" y="925.02" width="12.3" height="12.3" fill="#fff" stroke="#000" stroke-width="2.0"/>
<rect x="441.60" y="901.05" width="12.3" height="12.3" fill="#fff" stroke="#000" stroke-width="2.0"/>
<rect x="482.23" y="883.49" width="12.3" height="12.3" fill="#fff" stroke="#000" stroke-width="2.0"/>
<rect x="522.86" y="870.01" width="12.3" height="12.3" fill="#fff" stroke="#000" stroke-width="2.0"/>
<rect x="563.49" y="858.88" width="12.3" height="12.3" fill="#fff" stroke="#000" stroke-width="2.0"/>
<polyline clip-path="url(#c3)" points="244.60,1093.21 285.23,1066.88 325.86,1034.98 366.49,1017.00 407.12,1005.45 447.75,997.10 488.38,990.89 529.01,985.32 569.64,979.12" fill="none" stroke="#000" stroke-width="3.8" stroke-linejoin="round"/>
<circle cx="244.60" cy="1093.21" r="4.5" fill="#fff" stroke="#000" stroke-width="2.0"/>
<circle cx="285.23" cy="1066.88" r="4.5" fill="#fff" stroke="#000" stroke-width="2.0"/>
<circle cx="325.86" cy="1034.98" r="4.5" fill="#fff" stroke="#000" stroke-width="2.0"/>
<circle cx="366.49" cy="1017.00" r="4.5" fill="#fff" stroke="#000" stroke-width="2.0"/>
<circle cx="407.12" cy="1005.45" r="4.5" fill="#fff" stroke="#000" stroke-width="2.0"/>
<circle cx="447.75" cy="997.10" r="4.5" fill="#fff" stroke="#000" stroke-width="2.0"/>
<circle cx="488.38" cy="990.89" r="4.5" fill="#fff" stroke="#000" stroke-width="2.0"/>
<circle cx="529.01" cy="985.32" r="4.5" fill="#fff" stroke="#000" stroke-width="2.0"/>
<circle cx="569.64" cy="979.12" r="4.5" fill="#fff" stroke="#000" stroke-width="2.0"/>
<polyline clip-path="url(#c3)" points="244.60,1133.45 285.23,1122.32 325.86,1113.75 366.49,1109.47 407.12,1106.90 447.75,1104.98 488.38,1103.48 529.01,1102.20 569.64,1101.13" fill="none" stroke="#000" stroke-width="3.7" stroke-dasharray="0.01 7" stroke-linecap="round"/>
<path d="M240.45,1129.30L248.75,1137.60M240.45,1137.60L248.75,1129.30" fill="none" stroke="#000" stroke-width="2.0"/>
<path d="M281.08,1118.17L289.38,1126.47M281.08,1126.47L289.38,1118.17" fill="none" stroke="#000" stroke-width="2.0"/>
<path d="M321.71,1109.60L330.01,1117.90M321.71,1117.90L330.01,1109.60" fill="none" stroke="#000" stroke-width="2.0"/>
<path d="M362.34,1105.32L370.64,1113.62M362.34,1113.62L370.64,1105.32" fill="none" stroke="#000" stroke-width="2.0"/>
<path d="M402.97,1102.75L411.27,1111.05M402.97,1111.05L411.27,1102.75" fill="none" stroke="#000" stroke-width="2.0"/>
<path d="M443.60,1100.83L451.90,1109.13M443.60,1109.13L451.90,1100.83" fill="none" stroke="#000" stroke-width="2.0"/>
<path d="M484.23,1099.33L492.53,1107.63M484.23,1107.63L492.53,1099.33" fill="none" stroke="#000" stroke-width="2.0"/>
<path d="M524.86,1098.05L533.16,1106.35M524.86,1106.35L533.16,1098.05" fill="none" stroke="#000" stroke-width="2.0"/>
<path d="M565.49,1096.98L573.79,1105.28M565.49,1105.28L573.79,1096.98" fill="none" stroke="#000" stroke-width="2.0"/>
<polyline clip-path="url(#c3)" points="244.60,1166.20 285.23,1160.85 325.86,1157.63 366.49,1156.35 407.12,1155.28 447.75,1154.21 488.38,1154.00 529.01,1153.14 569.64,1151.86" fill="none" stroke="#000" stroke-width="3.8" stroke-linejoin="round"/>
<path d="M240.40,1170.40L244.60,1162.00L248.80,1170.40Z" fill="#fff" stroke="#000" stroke-width="2.0"/>
<path d="M281.03,1165.05L285.23,1156.65L289.43,1165.05Z" fill="#fff" stroke="#000" stroke-width="2.0"/>
<path d="M321.66,1161.83L325.86,1153.43L330.06,1161.83Z" fill="#fff" stroke="#000" stroke-width="2.0"/>
<path d="M362.29,1160.55L366.49,1152.15L370.69,1160.55Z" fill="#fff" stroke="#000" stroke-width="2.0"/>
<path d="M402.92,1159.48L407.12,1151.08L411.32,1159.48Z" fill="#fff" stroke="#000" stroke-width="2.0"/>
<path d="M443.55,1158.41L447.75,1150.01L451.95,1158.41Z" fill="#fff" stroke="#000" stroke-width="2.0"/>
<path d="M484.18,1158.20L488.38,1149.80L492.58,1158.20Z" fill="#fff" stroke="#000" stroke-width="2.0"/>
<path d="M524.81,1157.34L529.01,1148.94L533.21,1157.34Z" fill="#fff" stroke="#000" stroke-width="2.0"/>
<path d="M565.44,1156.06L569.64,1147.66L573.84,1156.06Z" fill="#fff" stroke="#000" stroke-width="2.0"/>
<polyline clip-path="url(#c3)" points="244.60,1180.97 285.23,1179.25 325.86,1177.11 366.49,1176.69 407.12,1175.83 447.75,1175.19 488.38,1174.76 529.01,1174.12 569.64,1173.05" fill="none" stroke="#000" stroke-width="3.7" stroke-dasharray="0.01 7" stroke-linecap="round"/>
<path d="M240.10,1180.97L244.60,1176.47L249.10,1180.97L244.60,1185.47Z" fill="#fff" stroke="#000" stroke-width="2.0"/>
<path d="M280.73,1179.25L285.23,1174.75L289.73,1179.25L285.23,1183.75Z" fill="#fff" stroke="#000" stroke-width="2.0"/>
<path d="M321.36,1177.11L325.86,1172.61L330.36,1177.11L325.86,1181.61Z" fill="#fff" stroke="#000" stroke-width="2.0"/>
<path d="M361.99,1176.69L366.49,1172.19L370.99,1176.69L366.49,1181.19Z" fill="#fff" stroke="#000" stroke-width="2.0"/>
<path d="M402.62,1175.83L407.12,1171.33L411.62,1175.83L407.12,1180.33Z" fill="#fff" stroke="#000" stroke-width="2.0"/>
<path d="M443.25,1175.19L447.75,1170.69L452.25,1175.19L447.75,1179.69Z" fill="#fff" stroke="#000" stroke-width="2.0"/>
<path d="M483.88,1174.76L488.38,1170.26L492.88,1174.76L488.38,1179.26Z" fill="#fff" stroke="#000" stroke-width="2.0"/>
<path d="M524.51,1174.12L529.01,1169.62L533.51,1174.12L529.01,1178.62Z" fill="#fff" stroke="#000" stroke-width="2.0"/>
<path d="M565.14,1173.05L569.64,1168.55L574.14,1173.05L569.64,1177.55Z" fill="#fff" stroke="#000" stroke-width="2.0"/>
<polyline clip-path="url(#c3)" points="244.60,1191.24 285.23,1189.53 325.86,1188.46 366.49,1187.82 407.12,1187.39 447.75,1187.17 488.38,1186.75 529.01,1186.53 569.64,1185.46" fill="none" stroke="#000" stroke-width="3.8" stroke-linejoin="round"/>
<rect x="240.35" y="1186.99" width="8.5" height="8.5" fill="#fff" stroke="#000" stroke-width="2.0"/>
<rect x="280.98" y="1185.28" width="8.5" height="8.5" fill="#fff" stroke="#000" stroke-width="2.0"/>
<rect x="321.61" y="1184.21" width="8.5" height="8.5" fill="#fff" stroke="#000" stroke-width="2.0"/>
<rect x="362.24" y="1183.57" width="8.5" height="8.5" fill="#fff" stroke="#000" stroke-width="2.0"/>
<rect x="402.87" y="1183.14" width="8.5" height="8.5" fill="#fff" stroke="#000" stroke-width="2.0"/>
<rect x="443.50" y="1182.92" width="8.5" height="8.5" fill="#fff" stroke="#000" stroke-width="2.0"/>
<rect x="484.13" y="1182.50" width="8.5" height="8.5" fill="#fff" stroke="#000" stroke-width="2.0"/>
<rect x="524.76" y="1182.28" width="8.5" height="8.5" fill="#fff" stroke="#000" stroke-width="2.0"/>
<rect x="565.39" y="1181.21" width="8.5" height="8.5" fill="#fff" stroke="#000" stroke-width="2.0"/>
<polyline clip-path="url(#c3)" points="244.60,1202.16 285.23,1199.80 325.86,1198.73 366.49,1198.52 407.12,1198.30 447.75,1198.09 488.38,1197.88 529.01,1197.45 569.64,1197.02" fill="none" stroke="#000" stroke-width="3.7" stroke-dasharray="0.01 7" stroke-linecap="round"/>
<circle cx="244.60" cy="1202.16" r="4.25" fill="#fff" stroke="#000" stroke-width="2.0"/>
<circle cx="285.23" cy="1199.80" r="4.25" fill="#fff" stroke="#000" stroke-width="2.0"/>
<circle cx="325.86" cy="1198.73" r="4.25" fill="#fff" stroke="#000" stroke-width="2.0"/>
<circle cx="366.49" cy="1198.52" r="4.25" fill="#fff" stroke="#000" stroke-width="2.0"/>
<circle cx="407.12" cy="1198.30" r="4.25" fill="#fff" stroke="#000" stroke-width="2.0"/>
<circle cx="447.75" cy="1198.09" r="4.25" fill="#fff" stroke="#000" stroke-width="2.0"/>
<circle cx="488.38" cy="1197.88" r="4.25" fill="#fff" stroke="#000" stroke-width="2.0"/>
<circle cx="529.01" cy="1197.45" r="4.25" fill="#fff" stroke="#000" stroke-width="2.0"/>
<circle cx="569.64" cy="1197.02" r="4.25" fill="#fff" stroke="#000" stroke-width="2.0"/>
<polyline clip-path="url(#c3)" points="244.60,1206.22 285.23,1206.01 325.86,1205.80 366.49,1205.58 407.12,1205.37 447.75,1205.15 488.38,1204.94 529.01,1204.30 569.64,1203.66" fill="none" stroke="#000" stroke-width="3.8" stroke-linejoin="round"/>
<path d="M240.70,1202.32L248.50,1210.12M240.70,1210.12L248.50,1202.32" fill="none" stroke="#000" stroke-width="2.0"/>
<path d="M281.33,1202.11L289.13,1209.91M281.33,1209.91L289.13,1202.11" fill="none" stroke="#000" stroke-width="2.0"/>
<path d="M321.96,1201.90L329.76,1209.70M321.96,1209.70L329.76,1201.90" fill="none" stroke="#000" stroke-width="2.0"/>
<path d="M362.59,1201.68L370.39,1209.48M362.59,1209.48L370.39,1201.68" fill="none" stroke="#000" stroke-width="2.0"/>
<path d="M403.22,1201.47L411.02,1209.27M403.22,1209.27L411.02,1201.47" fill="none" stroke="#000" stroke-width="2.0"/>
<path d="M443.85,1201.25L451.65,1209.05M443.85,1209.05L451.65,1201.25" fill="none" stroke="#000" stroke-width="2.0"/>
<path d="M484.48,1201.04L492.28,1208.84M484.48,1208.84L492.28,1201.04" fill="none" stroke="#000" stroke-width="2.0"/>
<path d="M525.11,1200.40L532.91,1208.20M525.11,1208.20L532.91,1200.40" fill="none" stroke="#000" stroke-width="2.0"/>
<path d="M565.74,1199.76L573.54,1207.56M565.74,1207.56L573.54,1199.76" fill="none" stroke="#000" stroke-width="2.0"/>
<polyline clip-path="url(#c3)" points="244.60,1214.57 285.23,1214.57 325.86,1214.36 366.49,1214.14 407.12,1213.93 447.75,1213.72 488.38,1213.50 529.01,1213.29 569.64,1212.86" fill="none" stroke="#000" stroke-width="3.7" stroke-dasharray="0.01 7" stroke-linecap="round"/>
<path d="M240.40,1218.77L244.60,1210.37L248.80,1218.77Z" fill="#fff" stroke="#000" stroke-width="2.0"/>
<path d="M281.03,1218.77L285.23,1210.37L289.43,1218.77Z" fill="#fff" stroke="#000" stroke-width="2.0"/>
<path d="M321.66,1218.56L325.86,1210.16L330.06,1218.56Z" fill="#fff" stroke="#000" stroke-width="2.0"/>
<path d="M362.29,1218.34L366.49,1209.94L370.69,1218.34Z" fill="#fff" stroke="#000" stroke-width="2.0"/>
<path d="M402.92,1218.13L407.12,1209.73L411.32,1218.13Z" fill="#fff" stroke="#000" stroke-width="2.0"/>
<path d="M443.55,1217.92L447.75,1209.52L451.95,1217.92Z" fill="#fff" stroke="#000" stroke-width="2.0"/>
<path d="M484.18,1217.70L488.38,1209.30L492.58,1217.70Z" fill="#fff" stroke="#000" stroke-width="2.0"/>
<path d="M524.81,1217.49L529.01,1209.09L533.21,1217.49Z" fill="#fff" stroke="#000" stroke-width="2.0"/>
<path d="M565.44,1217.06L569.64,1208.66L573.84,1217.06Z" fill="#fff" stroke="#000" stroke-width="2.0"/>
<polyline clip-path="url(#c3)" points="244.60,1225.06 285.23,1225.06 325.86,1225.06 366.49,1224.85 407.12,1224.85 447.75,1224.63 488.38,1224.63 529.01,1224.42 569.64,1224.42" fill="none" stroke="#000" stroke-width="3.8" stroke-linejoin="round"/>
<rect x="211.3" y="1287" width="375.7" height="90.70000000000005" fill="#fff" stroke="#111" stroke-width="1.1"/>
<line x1="225.3" y1="1299" x2="271.4" y2="1299" stroke="#000" stroke-width="3.5" stroke-linecap="round"/>
<path d="M245.50,1299.00L248.75,1295.75L252.00,1299.00L248.75,1302.25Z" fill="#fff" stroke="#000" stroke-width="2.1"/>
<text transform="translate(275.80,1304.99) scale(0.95,1)" font-size="14.5" text-anchor="start" font-weight="normal" fill="#383838" >5.1 <tspan textLength="13.5" lengthAdjust="spacingAndGlyphs">k&#937;</tspan></text>
<circle cx="351.00" cy="1299" r="1.7" fill="#000"/>
<circle cx="355.80" cy="1299" r="1.7" fill="#000"/>
<circle cx="360.50" cy="1299" r="1.7" fill="#000"/>
<circle cx="365.20" cy="1299" r="1.7" fill="#000"/>
<circle cx="379.35" cy="1299" r="1.7" fill="#000"/>
<circle cx="385.65" cy="1299" r="1.7" fill="#000"/>
<circle cx="390.95" cy="1299" r="1.7" fill="#000"/>
<rect x="369.35" y="1295.20" width="7.6" height="7.6" fill="#fff" stroke="#000" stroke-width="2.1"/>
<text transform="translate(400.40,1304.99) scale(0.95,1)" font-size="14.5" text-anchor="start" font-weight="normal" fill="#383838" >12.0 <tspan textLength="13.5" lengthAdjust="spacingAndGlyphs">k&#937;</tspan></text>
<line x1="475.1" y1="1299" x2="520.2" y2="1299" stroke="#000" stroke-width="3.5" stroke-linecap="round"/>
<circle cx="498.05" cy="1299.00" r="3.8" fill="#fff" stroke="#000" stroke-width="2.1"/>
<text transform="translate(525.60,1304.99) scale(0.95,1)" font-size="14.5" text-anchor="start" font-weight="normal" fill="#383838" >19.7 <tspan textLength="13.5" lengthAdjust="spacingAndGlyphs">k&#937;</tspan></text>
<circle cx="225.70" cy="1322" r="1.7" fill="#000"/>
<circle cx="230.50" cy="1322" r="1.7" fill="#000"/>
<circle cx="235.20" cy="1322" r="1.7" fill="#000"/>
<circle cx="239.90" cy="1322" r="1.7" fill="#000"/>
<circle cx="254.95" cy="1322" r="1.7" fill="#000"/>
<circle cx="261.25" cy="1322" r="1.7" fill="#000"/>
<circle cx="266.55" cy="1322" r="1.7" fill="#000"/>
<path d="M245.25,1318.50L252.25,1325.50M245.25,1325.50L252.25,1318.50" fill="none" stroke="#000" stroke-width="2.1"/>
<text transform="translate(275.80,1327.99) scale(0.95,1)" font-size="14.5" text-anchor="start" font-weight="normal" fill="#383838" >39.4 <tspan textLength="13.5" lengthAdjust="spacingAndGlyphs">k&#937;</tspan></text>
<line x1="350.6" y1="1322" x2="394.9" y2="1322" stroke="#000" stroke-width="3.5" stroke-linecap="round"/>
<path d="M369.65,1325.50L373.15,1318.50L376.65,1325.50Z" fill="#fff" stroke="#000" stroke-width="2.1"/>
<text transform="translate(400.40,1327.99) scale(0.95,1)" font-size="14.5" text-anchor="start" font-weight="normal" fill="#383838" >61.2 <tspan textLength="13.5" lengthAdjust="spacingAndGlyphs">k&#937;</tspan></text>
<circle cx="475.50" cy="1322" r="1.7" fill="#000"/>
<circle cx="480.30" cy="1322" r="1.7" fill="#000"/>
<circle cx="485.00" cy="1322" r="1.7" fill="#000"/>
<circle cx="489.70" cy="1322" r="1.7" fill="#000"/>
<circle cx="504.25" cy="1322" r="1.7" fill="#000"/>
<circle cx="510.55" cy="1322" r="1.7" fill="#000"/>
<circle cx="515.85" cy="1322" r="1.7" fill="#000"/>
<path d="M494.80,1322.00L498.05,1318.75L501.30,1322.00L498.05,1325.25Z" fill="#fff" stroke="#000" stroke-width="2.1"/>
<text transform="translate(525.60,1327.99) scale(0.95,1)" font-size="14.5" text-anchor="start" font-weight="normal" fill="#383838" >81.0 <tspan textLength="13.5" lengthAdjust="spacingAndGlyphs">k&#937;</tspan></text>
<line x1="225.3" y1="1343.7" x2="271.4" y2="1343.7" stroke="#000" stroke-width="3.5" stroke-linecap="round"/>
<rect x="244.95" y="1339.90" width="7.6" height="7.6" fill="#fff" stroke="#000" stroke-width="2.1"/>
<text transform="translate(275.80,1349.69) scale(0.95,1)" font-size="14.5" text-anchor="start" font-weight="normal" fill="#383838" >97.5 <tspan textLength="13.5" lengthAdjust="spacingAndGlyphs">k&#937;</tspan></text>
<circle cx="351.00" cy="1343.7" r="1.7" fill="#000"/>
<circle cx="355.80" cy="1343.7" r="1.7" fill="#000"/>
<circle cx="360.50" cy="1343.7" r="1.7" fill="#000"/>
<circle cx="365.20" cy="1343.7" r="1.7" fill="#000"/>
<circle cx="379.35" cy="1343.7" r="1.7" fill="#000"/>
<circle cx="385.65" cy="1343.7" r="1.7" fill="#000"/>
<circle cx="390.95" cy="1343.7" r="1.7" fill="#000"/>
<circle cx="373.15" cy="1343.70" r="3.8" fill="#fff" stroke="#000" stroke-width="2.1"/>
<text transform="translate(400.40,1349.69) scale(0.95,1)" font-size="14.5" text-anchor="start" font-weight="normal" fill="#383838" >122.0 <tspan textLength="13.5" lengthAdjust="spacingAndGlyphs">k&#937;</tspan></text>
<line x1="475.1" y1="1343.7" x2="520.2" y2="1343.7" stroke="#000" stroke-width="3.5" stroke-linecap="round"/>
<path d="M494.55,1340.20L501.55,1347.20M494.55,1347.20L501.55,1340.20" fill="none" stroke="#000" stroke-width="2.1"/>
<text transform="translate(525.60,1349.69) scale(0.95,1)" font-size="14.5" text-anchor="start" font-weight="normal" fill="#383838" >147.2 <tspan textLength="13.5" lengthAdjust="spacingAndGlyphs">k&#937;</tspan></text>
<circle cx="225.70" cy="1366.7" r="1.7" fill="#000"/>
<circle cx="230.50" cy="1366.7" r="1.7" fill="#000"/>
<circle cx="235.20" cy="1366.7" r="1.7" fill="#000"/>
<circle cx="239.90" cy="1366.7" r="1.7" fill="#000"/>
<circle cx="254.95" cy="1366.7" r="1.7" fill="#000"/>
<circle cx="261.25" cy="1366.7" r="1.7" fill="#000"/>
<circle cx="266.55" cy="1366.7" r="1.7" fill="#000"/>
<path d="M245.25,1370.20L248.75,1363.20L252.25,1370.20Z" fill="#fff" stroke="#000" stroke-width="2.1"/>
<text transform="translate(275.80,1372.69) scale(0.95,1)" font-size="14.5" text-anchor="start" font-weight="normal" fill="#383838" >198.9 <tspan textLength="13.5" lengthAdjust="spacingAndGlyphs">k&#937;</tspan></text>
<line x1="350.6" y1="1366.7" x2="394.9" y2="1366.7" stroke="#000" stroke-width="4.4" stroke-linecap="round"/>
<text transform="translate(400.40,1372.69) scale(0.95,1)" font-size="14.5" text-anchor="start" font-weight="normal" fill="#383838" >339.0 <tspan textLength="13.5" lengthAdjust="spacingAndGlyphs">k&#937;</tspan></text>
<path d="M633.5,1387V800.5H1029.8" fill="none" stroke="#7a7a7a" stroke-width="1.3"/>
<line x1="719.5" y1="812.80" x2="719.5" y2="1242.60" stroke="#c4c4c4" stroke-width="1"/>
<line x1="800.5" y1="812.80" x2="800.5" y2="1242.60" stroke="#909090" stroke-width="1"/>
<line x1="841.5" y1="812.80" x2="841.5" y2="1242.60" stroke="#909090" stroke-width="1"/>
<line x1="882.5" y1="812.80" x2="882.5" y2="1242.60" stroke="#909090" stroke-width="1"/>
<line x1="923.5" y1="812.80" x2="923.5" y2="1242.60" stroke="#909090" stroke-width="1"/>
<line x1="963.5" y1="812.80" x2="963.5" y2="1242.60" stroke="#909090" stroke-width="1"/>
<line x1="678.90" y1="1199.5" x2="1004.42" y2="1199.5" stroke="#111" stroke-width="1"/>
<line x1="678.90" y1="1156.5" x2="1004.42" y2="1156.5" stroke="#111" stroke-width="1"/>
<line x1="678.90" y1="1113.5" x2="1004.42" y2="1113.5" stroke="#111" stroke-width="1"/>
<line x1="678.90" y1="1070.5" x2="1004.42" y2="1070.5" stroke="#111" stroke-width="1"/>
<line x1="678.90" y1="1027.5" x2="1004.42" y2="1027.5" stroke="#7a7a7a" stroke-width="1"/>
<line x1="678.90" y1="984.5" x2="1004.42" y2="984.5" stroke="#111" stroke-width="1"/>
<line x1="678.90" y1="941.5" x2="1004.42" y2="941.5" stroke="#111" stroke-width="1"/>
<line x1="678.90" y1="898.5" x2="1004.42" y2="898.5" stroke="#111" stroke-width="1"/>
<line x1="678.90" y1="855.5" x2="1004.42" y2="855.5" stroke="#111" stroke-width="1"/>
<rect x="678.90" y="812.80" width="325.52" height="429.80" fill="none" stroke="#808080" stroke-width="1.8"/>
<rect x="673.00" y="806.80" width="37" height="19" fill="#fff"/>
<text transform="translate(675.00,818.19) scale(0.872,1)" font-size="15.9" text-anchor="start" font-weight="normal" fill="#383838" >MHz</text>
<text transform="translate(660.00,1247.38) scale(0.912,1)" font-size="15.3" text-anchor="end" font-weight="normal" fill="#383838" >0</text>
<text transform="translate(660.00,1204.40) scale(0.912,1)" font-size="15.3" text-anchor="end" font-weight="normal" fill="#383838" >2</text>
<text transform="translate(660.00,1161.42) scale(0.912,1)" font-size="15.3" text-anchor="end" font-weight="normal" fill="#383838" >4</text>
<text transform="translate(660.00,1118.44) scale(0.912,1)" font-size="15.3" text-anchor="end" font-weight="normal" fill="#383838" >6</text>
<text transform="translate(660.00,1075.46) scale(0.912,1)" font-size="15.3" text-anchor="end" font-weight="normal" fill="#383838" >8</text>
<text transform="translate(660.00,1032.48) scale(0.912,1)" font-size="15.3" text-anchor="end" font-weight="normal" fill="#383838" >10</text>
<text transform="translate(660.00,989.50) scale(0.912,1)" font-size="15.3" text-anchor="end" font-weight="normal" fill="#383838" >12</text>
<text transform="translate(660.00,946.52) scale(0.912,1)" font-size="15.3" text-anchor="end" font-weight="normal" fill="#383838" >14</text>
<text transform="translate(660.00,903.54) scale(0.912,1)" font-size="15.3" text-anchor="end" font-weight="normal" fill="#383838" >16</text>
<text transform="translate(660.00,860.56) scale(0.912,1)" font-size="15.3" text-anchor="end" font-weight="normal" fill="#383838" >18</text>
<text transform="translate(660.00,817.58) scale(0.912,1)" font-size="15.3" text-anchor="end" font-weight="normal" fill="#383838" >20</text>
<text transform="translate(677.90,1273.55) scale(0.885,1)" font-size="15.5" text-anchor="middle" font-weight="normal" fill="#383838" >2.2V</text>
<text transform="translate(718.59,1273.55) scale(0.885,1)" font-size="15.5" text-anchor="middle" font-weight="normal" fill="#383838" >2.5V</text>
<text transform="translate(759.28,1273.55) scale(0.885,1)" font-size="15.5" text-anchor="middle" font-weight="normal" fill="#383838" >3.0V</text>
<text transform="translate(799.97,1273.55) scale(0.885,1)" font-size="15.5" text-anchor="middle" font-weight="normal" fill="#383838" >3.5V</text>
<text transform="translate(840.66,1273.55) scale(0.885,1)" font-size="15.5" text-anchor="middle" font-weight="normal" fill="#383838" >4.0V</text>
<text transform="translate(881.35,1273.55) scale(0.885,1)" font-size="15.5" text-anchor="middle" font-weight="normal" fill="#383838" >4.5V</text>
<text transform="translate(922.04,1273.55) scale(0.885,1)" font-size="15.5" text-anchor="middle" font-weight="normal" fill="#383838" >5.0V</text>
<text transform="translate(962.73,1273.55) scale(0.885,1)" font-size="15.5" text-anchor="middle" font-weight="normal" fill="#383838" >5.5V</text>
<text transform="translate(1003.42,1273.55) scale(0.885,1)" font-size="15.5" text-anchor="middle" font-weight="normal" fill="#383838" >6.0V</text>
<clipPath id="c4"><rect x="668.90" y="811.30" width="350.52" height="439.80"/></clipPath>
<polyline clip-path="url(#c4)" points="678.90,1066.60 719.59,1044.46 760.28,986.01 800.97,913.80 841.66,855.14 882.35,806.35 923.04,756.93 963.73,707.50 1004.42,658.07" fill="none" stroke="#000" stroke-width="3.8" stroke-linejoin="round"/>
<path d="M672.65,1066.60L678.90,1060.35L685.15,1066.60L678.90,1072.85Z" fill="#fff" stroke="#000" stroke-width="2.0"/>
<path d="M713.34,1044.46L719.59,1038.21L725.84,1044.46L719.59,1050.71Z" fill="#fff" stroke="#000" stroke-width="2.0"/>
<path d="M754.03,986.01L760.28,979.76L766.53,986.01L760.28,992.26Z" fill="#fff" stroke="#000" stroke-width="2.0"/>
<path d="M794.72,913.80L800.97,907.55L807.22,913.80L800.97,920.05Z" fill="#fff" stroke="#000" stroke-width="2.0"/>
<path d="M835.41,855.14L841.66,848.89L847.91,855.14L841.66,861.39Z" fill="#fff" stroke="#000" stroke-width="2.0"/>
<polyline clip-path="url(#c4)" points="678.90,1066.60 719.59,1024.69 760.28,968.17 800.97,931.42 841.66,899.83 882.35,881.57 923.04,869.53 963.73,859.65 1004.42,850.62" fill="none" stroke="#000" stroke-width="3.7" stroke-dasharray="0.01 7" stroke-linecap="round"/>
<rect x="672.75" y="1060.45" width="12.3" height="12.3" fill="#fff" stroke="#000" stroke-width="2.0"/>
<rect x="713.44" y="1018.54" width="12.3" height="12.3" fill="#fff" stroke="#000" stroke-width="2.0"/>
<rect x="754.13" y="962.02" width="12.3" height="12.3" fill="#fff" stroke="#000" stroke-width="2.0"/>
<rect x="794.82" y="925.27" width="12.3" height="12.3" fill="#fff" stroke="#000" stroke-width="2.0"/>
<rect x="835.51" y="893.68" width="12.3" height="12.3" fill="#fff" stroke="#000" stroke-width="2.0"/>
<rect x="876.20" y="875.42" width="12.3" height="12.3" fill="#fff" stroke="#000" stroke-width="2.0"/>
<rect x="916.89" y="863.38" width="12.3" height="12.3" fill="#fff" stroke="#000" stroke-width="2.0"/>
<rect x="957.58" y="853.50" width="12.3" height="12.3" fill="#fff" stroke="#000" stroke-width="2.0"/>
<rect x="998.27" y="844.47" width="12.3" height="12.3" fill="#fff" stroke="#000" stroke-width="2.0"/>
<polyline clip-path="url(#c4)" points="678.90,1081.42 719.59,1059.08 760.28,1027.70 800.97,1011.15 841.66,1001.48 882.35,996.11 923.04,992.03 963.73,987.51 1004.42,984.08" fill="none" stroke="#000" stroke-width="3.8" stroke-linejoin="round"/>
<circle cx="678.90" cy="1081.42" r="4.5" fill="#fff" stroke="#000" stroke-width="2.0"/>
<circle cx="719.59" cy="1059.08" r="4.5" fill="#fff" stroke="#000" stroke-width="2.0"/>
<circle cx="760.28" cy="1027.70" r="4.5" fill="#fff" stroke="#000" stroke-width="2.0"/>
<circle cx="800.97" cy="1011.15" r="4.5" fill="#fff" stroke="#000" stroke-width="2.0"/>
<circle cx="841.66" cy="1001.48" r="4.5" fill="#fff" stroke="#000" stroke-width="2.0"/>
<circle cx="882.35" cy="996.11" r="4.5" fill="#fff" stroke="#000" stroke-width="2.0"/>
<circle cx="923.04" cy="992.03" r="4.5" fill="#fff" stroke="#000" stroke-width="2.0"/>
<circle cx="963.73" cy="987.51" r="4.5" fill="#fff" stroke="#000" stroke-width="2.0"/>
<circle cx="1004.42" cy="984.08" r="4.5" fill="#fff" stroke="#000" stroke-width="2.0"/>
<polyline clip-path="url(#c4)" points="678.90,1140.09 719.59,1129.56 760.28,1116.45 800.97,1112.37 841.66,1110.65 882.35,1109.36 923.04,1107.43 963.73,1105.71 1004.42,1103.77" fill="none" stroke="#000" stroke-width="3.7" stroke-dasharray="0.01 7" stroke-linecap="round"/>
<path d="M674.75,1135.94L683.05,1144.24M674.75,1144.24L683.05,1135.94" fill="none" stroke="#000" stroke-width="2.0"/>
<path d="M715.44,1125.41L723.74,1133.71M715.44,1133.71L723.74,1125.41" fill="none" stroke="#000" stroke-width="2.0"/>
<path d="M756.13,1112.30L764.43,1120.60M756.13,1120.60L764.43,1112.30" fill="none" stroke="#000" stroke-width="2.0"/>
<path d="M796.82,1108.22L805.12,1116.52M796.82,1116.52L805.12,1108.22" fill="none" stroke="#000" stroke-width="2.0"/>
<path d="M837.51,1106.50L845.81,1114.80M837.51,1114.80L845.81,1106.50" fill="none" stroke="#000" stroke-width="2.0"/>
<path d="M878.20,1105.21L886.50,1113.51M878.20,1113.51L886.50,1105.21" fill="none" stroke="#000" stroke-width="2.0"/>
<path d="M918.89,1103.28L927.19,1111.58M918.89,1111.58L927.19,1103.28" fill="none" stroke="#000" stroke-width="2.0"/>
<path d="M959.58,1101.56L967.88,1109.86M959.58,1109.86L967.88,1101.56" fill="none" stroke="#000" stroke-width="2.0"/>
<path d="M1000.27,1099.62L1008.57,1107.92M1000.27,1107.92L1008.57,1099.62" fill="none" stroke="#000" stroke-width="2.0"/>
<polyline clip-path="url(#c4)" points="678.90,1176.63 719.59,1163.95 760.28,1161.15 800.97,1159.43 841.66,1158.79 882.35,1157.93 923.04,1157.07 963.73,1156.00 1004.42,1154.49" fill="none" stroke="#000" stroke-width="3.8" stroke-linejoin="round"/>
<path d="M674.70,1180.83L678.90,1172.43L683.10,1180.83Z" fill="#fff" stroke="#000" stroke-width="2.0"/>
<path d="M715.39,1168.15L719.59,1159.75L723.79,1168.15Z" fill="#fff" stroke="#000" stroke-width="2.0"/>
<path d="M756.08,1165.35L760.28,1156.95L764.48,1165.35Z" fill="#fff" stroke="#000" stroke-width="2.0"/>
<path d="M796.77,1163.63L800.97,1155.23L805.17,1163.63Z" fill="#fff" stroke="#000" stroke-width="2.0"/>
<path d="M837.46,1162.99L841.66,1154.59L845.86,1162.99Z" fill="#fff" stroke="#000" stroke-width="2.0"/>
<path d="M878.15,1162.13L882.35,1153.73L886.55,1162.13Z" fill="#fff" stroke="#000" stroke-width="2.0"/>
<path d="M918.84,1161.27L923.04,1152.87L927.24,1161.27Z" fill="#fff" stroke="#000" stroke-width="2.0"/>
<path d="M959.53,1160.20L963.73,1151.80L967.93,1160.20Z" fill="#fff" stroke="#000" stroke-width="2.0"/>
<path d="M1000.22,1158.69L1004.42,1150.29L1008.62,1158.69Z" fill="#fff" stroke="#000" stroke-width="2.0"/>
<polyline clip-path="url(#c4)" points="678.90,1190.38 719.59,1181.78 760.28,1180.28 800.97,1179.42 841.66,1178.56 882.35,1178.34 923.04,1177.70 963.73,1176.84 1004.42,1175.98" fill="none" stroke="#000" stroke-width="3.7" stroke-dasharray="0.01 7" stroke-linecap="round"/>
<path d="M674.40,1190.38L678.90,1185.88L683.40,1190.38L678.90,1194.88Z" fill="#fff" stroke="#000" stroke-width="2.0"/>
<path d="M715.09,1181.78L719.59,1177.28L724.09,1181.78L719.59,1186.28Z" fill="#fff" stroke="#000" stroke-width="2.0"/>
<path d="M755.78,1180.28L760.28,1175.78L764.78,1180.28L760.28,1184.78Z" fill="#fff" stroke="#000" stroke-width="2.0"/>
<path d="M796.47,1179.42L800.97,1174.92L805.47,1179.42L800.97,1183.92Z" fill="#fff" stroke="#000" stroke-width="2.0"/>
<path d="M837.16,1178.56L841.66,1174.06L846.16,1178.56L841.66,1183.06Z" fill="#fff" stroke="#000" stroke-width="2.0"/>
<path d="M877.85,1178.34L882.35,1173.84L886.85,1178.34L882.35,1182.84Z" fill="#fff" stroke="#000" stroke-width="2.0"/>
<path d="M918.54,1177.70L923.04,1173.20L927.54,1177.70L923.04,1182.20Z" fill="#fff" stroke="#000" stroke-width="2.0"/>
<path d="M959.23,1176.84L963.73,1172.34L968.23,1176.84L963.73,1181.34Z" fill="#fff" stroke="#000" stroke-width="2.0"/>
<path d="M999.92,1175.98L1004.42,1171.48L1008.92,1175.98L1004.42,1180.48Z" fill="#fff" stroke="#000" stroke-width="2.0"/>
<polyline clip-path="url(#c4)" points="678.90,1198.98 719.59,1192.74 760.28,1191.02 800.97,1190.59 841.66,1190.38 882.35,1189.95 923.04,1189.30 963.73,1188.88 1004.42,1188.02" fill="none" stroke="#000" stroke-width="3.8" stroke-linejoin="round"/>
<rect x="674.65" y="1194.73" width="8.5" height="8.5" fill="#fff" stroke="#000" stroke-width="2.0"/>
<rect x="715.34" y="1188.49" width="8.5" height="8.5" fill="#fff" stroke="#000" stroke-width="2.0"/>
<rect x="756.03" y="1186.77" width="8.5" height="8.5" fill="#fff" stroke="#000" stroke-width="2.0"/>
<rect x="796.72" y="1186.34" width="8.5" height="8.5" fill="#fff" stroke="#000" stroke-width="2.0"/>
<rect x="837.41" y="1186.13" width="8.5" height="8.5" fill="#fff" stroke="#000" stroke-width="2.0"/>
<rect x="878.10" y="1185.70" width="8.5" height="8.5" fill="#fff" stroke="#000" stroke-width="2.0"/>
<rect x="918.79" y="1185.05" width="8.5" height="8.5" fill="#fff" stroke="#000" stroke-width="2.0"/>
<rect x="959.48" y="1184.62" width="8.5" height="8.5" fill="#fff" stroke="#000" stroke-width="2.0"/>
<rect x="1000.17" y="1183.77" width="8.5" height="8.5" fill="#fff" stroke="#000" stroke-width="2.0"/>
<polyline clip-path="url(#c4)" points="678.90,1203.06 719.59,1200.69 760.28,1200.26 800.97,1200.05 841.66,1199.83 882.35,1199.62 923.04,1199.19 963.73,1198.76 1004.42,1198.33" fill="none" stroke="#000" stroke-width="3.7" stroke-dasharray="0.01 7" stroke-linecap="round"/>
<circle cx="678.90" cy="1203.06" r="4.25" fill="#fff" stroke="#000" stroke-width="2.0"/>
<circle cx="719.59" cy="1200.69" r="4.25" fill="#fff" stroke="#000" stroke-width="2.0"/>
<circle cx="760.28" cy="1200.26" r="4.25" fill="#fff" stroke="#000" stroke-width="2.0"/>
<circle cx="800.97" cy="1200.05" r="4.25" fill="#fff" stroke="#000" stroke-width="2.0"/>
<circle cx="841.66" cy="1199.83" r="4.25" fill="#fff" stroke="#000" stroke-width="2.0"/>
<circle cx="882.35" cy="1199.62" r="4.25" fill="#fff" stroke="#000" stroke-width="2.0"/>
<circle cx="923.04" cy="1199.19" r="4.25" fill="#fff" stroke="#000" stroke-width="2.0"/>
<circle cx="963.73" cy="1198.76" r="4.25" fill="#fff" stroke="#000" stroke-width="2.0"/>
<circle cx="1004.42" cy="1198.33" r="4.25" fill="#fff" stroke="#000" stroke-width="2.0"/>
<polyline clip-path="url(#c4)" points="678.90,1209.29 719.59,1208.22 760.28,1207.79 800.97,1207.36 841.66,1206.93 882.35,1206.50 923.04,1206.07 963.73,1205.64 1004.42,1205.21" fill="none" stroke="#000" stroke-width="3.8" stroke-linejoin="round"/>
<path d="M675.00,1205.39L682.80,1213.19M675.00,1213.19L682.80,1205.39" fill="none" stroke="#000" stroke-width="2.0"/>
<path d="M715.69,1204.32L723.49,1212.12M715.69,1212.12L723.49,1204.32" fill="none" stroke="#000" stroke-width="2.0"/>
<path d="M756.38,1203.89L764.18,1211.69M756.38,1211.69L764.18,1203.89" fill="none" stroke="#000" stroke-width="2.0"/>
<path d="M797.07,1203.46L804.87,1211.26M797.07,1211.26L804.87,1203.46" fill="none" stroke="#000" stroke-width="2.0"/>
<path d="M837.76,1203.03L845.56,1210.83M837.76,1210.83L845.56,1203.03" fill="none" stroke="#000" stroke-width="2.0"/>
<path d="M878.45,1202.60L886.25,1210.40M878.45,1210.40L886.25,1202.60" fill="none" stroke="#000" stroke-width="2.0"/>
<path d="M919.14,1202.17L926.94,1209.97M919.14,1209.97L926.94,1202.17" fill="none" stroke="#000" stroke-width="2.0"/>
<path d="M959.83,1201.74L967.63,1209.54M959.83,1209.54L967.63,1201.74" fill="none" stroke="#000" stroke-width="2.0"/>
<path d="M1000.52,1201.31L1008.32,1209.11M1000.52,1209.11L1008.32,1201.31" fill="none" stroke="#000" stroke-width="2.0"/>
<polyline clip-path="url(#c4)" points="678.90,1217.46 719.59,1217.24 760.28,1217.03 800.97,1216.81 841.66,1216.60 882.35,1216.38 923.04,1216.17 963.73,1215.74 1004.42,1215.52" fill="none" stroke="#000" stroke-width="3.7" stroke-dasharray="0.01 7" stroke-linecap="round"/>
<path d="M674.70,1221.66L678.90,1213.26L683.10,1221.66Z" fill="#fff" stroke="#000" stroke-width="2.0"/>
<path d="M715.39,1221.44L719.59,1213.04L723.79,1221.44Z" fill="#fff" stroke="#000" stroke-width="2.0"/>
<path d="M756.08,1221.23L760.28,1212.83L764.48,1221.23Z" fill="#fff" stroke="#000" stroke-width="2.0"/>
<path d="M796.77,1221.01L800.97,1212.61L805.17,1221.01Z" fill="#fff" stroke="#000" stroke-width="2.0"/>
<path d="M837.46,1220.80L841.66,1212.40L845.86,1220.80Z" fill="#fff" stroke="#000" stroke-width="2.0"/>
<path d="M878.15,1220.58L882.35,1212.18L886.55,1220.58Z" fill="#fff" stroke="#000" stroke-width="2.0"/>
<path d="M918.84,1220.37L923.04,1211.97L927.24,1220.37Z" fill="#fff" stroke="#000" stroke-width="2.0"/>
<path d="M959.53,1219.94L963.73,1211.54L967.93,1219.94Z" fill="#fff" stroke="#000" stroke-width="2.0"/>
<path d="M1000.22,1219.72L1004.42,1211.32L1008.62,1219.72Z" fill="#fff" stroke="#000" stroke-width="2.0"/>
<polyline clip-path="url(#c4)" points="678.90,1227.13 719.59,1227.13 760.28,1226.91 800.97,1226.91 841.66,1226.70 882.35,1226.70 923.04,1226.48 963.73,1226.27 1004.42,1226.05" fill="none" stroke="#000" stroke-width="3.8" stroke-linejoin="round"/>
<rect x="642.7" y="1284.3" width="375.0999999999999" height="93.40000000000009" fill="#fff" stroke="#111" stroke-width="1.1"/>
<line x1="657.4" y1="1296.7" x2="702" y2="1296.7" stroke="#000" stroke-width="3.5" stroke-linecap="round"/>
<path d="M676.85,1296.70L680.10,1293.45L683.35,1296.70L680.10,1299.95Z" fill="#fff" stroke="#000" stroke-width="2.1"/>
<text transform="translate(708.20,1302.69) scale(0.95,1)" font-size="14.5" text-anchor="start" font-weight="normal" fill="#383838" >5.1 <tspan textLength="13.5" lengthAdjust="spacingAndGlyphs">k&#937;</tspan></text>
<circle cx="782.00" cy="1296.7" r="1.7" fill="#000"/>
<circle cx="787.80" cy="1296.7" r="1.7" fill="#000"/>
<circle cx="793.60" cy="1296.7" r="1.7" fill="#000"/>
<circle cx="810.30" cy="1296.7" r="1.7" fill="#000"/>
<circle cx="816.40" cy="1296.7" r="1.7" fill="#000"/>
<circle cx="822.70" cy="1296.7" r="1.7" fill="#000"/>
<rect x="801.10" y="1292.90" width="7.6" height="7.6" fill="#fff" stroke="#000" stroke-width="2.1"/>
<text transform="translate(832.50,1302.69) scale(0.95,1)" font-size="14.5" text-anchor="start" font-weight="normal" fill="#383838" >12.0 <tspan textLength="13.5" lengthAdjust="spacingAndGlyphs">k&#937;</tspan></text>
<line x1="906.6" y1="1296.7" x2="951.6" y2="1296.7" stroke="#000" stroke-width="3.5" stroke-linecap="round"/>
<circle cx="929.50" cy="1296.70" r="3.8" fill="#fff" stroke="#000" stroke-width="2.1"/>
<text transform="translate(957.00,1302.69) scale(0.95,1)" font-size="14.5" text-anchor="start" font-weight="normal" fill="#383838" >19.7 <tspan textLength="13.5" lengthAdjust="spacingAndGlyphs">k&#937;</tspan></text>
<circle cx="657.40" cy="1320.3" r="1.7" fill="#000"/>
<circle cx="663.20" cy="1320.3" r="1.7" fill="#000"/>
<circle cx="669.00" cy="1320.3" r="1.7" fill="#000"/>
<circle cx="685.50" cy="1320.3" r="1.7" fill="#000"/>
<circle cx="691.60" cy="1320.3" r="1.7" fill="#000"/>
<circle cx="697.90" cy="1320.3" r="1.7" fill="#000"/>
<path d="M676.60,1316.80L683.60,1323.80M676.60,1323.80L683.60,1316.80" fill="none" stroke="#000" stroke-width="2.1"/>
<text transform="translate(708.20,1326.29) scale(0.95,1)" font-size="14.5" text-anchor="start" font-weight="normal" fill="#383838" >39.4 <tspan textLength="13.5" lengthAdjust="spacingAndGlyphs">k&#937;</tspan></text>
<line x1="782" y1="1320.3" x2="827" y2="1320.3" stroke="#000" stroke-width="3.5" stroke-linecap="round"/>
<path d="M801.40,1323.80L804.90,1316.80L808.40,1323.80Z" fill="#fff" stroke="#000" stroke-width="2.1"/>
<text transform="translate(832.50,1326.29) scale(0.95,1)" font-size="14.5" text-anchor="start" font-weight="normal" fill="#383838" >61.2 <tspan textLength="13.5" lengthAdjust="spacingAndGlyphs">k&#937;</tspan></text>
<circle cx="906.60" cy="1320.3" r="1.7" fill="#000"/>
<circle cx="912.40" cy="1320.3" r="1.7" fill="#000"/>
<circle cx="918.20" cy="1320.3" r="1.7" fill="#000"/>
<circle cx="934.90" cy="1320.3" r="1.7" fill="#000"/>
<circle cx="941.00" cy="1320.3" r="1.7" fill="#000"/>
<circle cx="947.30" cy="1320.3" r="1.7" fill="#000"/>
<path d="M926.25,1320.30L929.50,1317.05L932.75,1320.30L929.50,1323.55Z" fill="#fff" stroke="#000" stroke-width="2.1"/>
<text transform="translate(957.00,1326.29) scale(0.95,1)" font-size="14.5" text-anchor="start" font-weight="normal" fill="#383838" >81.0 <tspan textLength="13.5" lengthAdjust="spacingAndGlyphs">k&#937;</tspan></text>
<line x1="657.4" y1="1343" x2="702" y2="1343" stroke="#000" stroke-width="3.5" stroke-linecap="round"/>
<rect x="676.30" y="1339.20" width="7.6" height="7.6" fill="#fff" stroke="#000" stroke-width="2.1"/>
<text transform="translate(708.20,1348.99) scale(0.95,1)" font-size="14.5" text-anchor="start" font-weight="normal" fill="#383838" >97.5 <tspan textLength="13.5" lengthAdjust="spacingAndGlyphs">k&#937;</tspan></text>
<circle cx="782.00" cy="1343" r="1.7" fill="#000"/>
<circle cx="787.80" cy="1343" r="1.7" fill="#000"/>
<circle cx="793.60" cy="1343" r="1.7" fill="#000"/>
<circle cx="810.30" cy="1343" r="1.7" fill="#000"/>
<circle cx="816.40" cy="1343" r="1.7" fill="#000"/>
<circle cx="822.70" cy="1343" r="1.7" fill="#000"/>
<circle cx="804.90" cy="1343.00" r="3.8" fill="#fff" stroke="#000" stroke-width="2.1"/>
<text transform="translate(832.50,1348.99) scale(0.95,1)" font-size="14.5" text-anchor="start" font-weight="normal" fill="#383838" >122.0 <tspan textLength="13.5" lengthAdjust="spacingAndGlyphs">k&#937;</tspan></text>
<line x1="906.6" y1="1343" x2="951.6" y2="1343" stroke="#000" stroke-width="3.5" stroke-linecap="round"/>
<path d="M926.00,1339.50L933.00,1346.50M926.00,1346.50L933.00,1339.50" fill="none" stroke="#000" stroke-width="2.1"/>
<text transform="translate(957.00,1348.99) scale(0.95,1)" font-size="14.5" text-anchor="start" font-weight="normal" fill="#383838" >147.2 <tspan textLength="13.5" lengthAdjust="spacingAndGlyphs">k&#937;</tspan></text>
<circle cx="657.40" cy="1366.3" r="1.7" fill="#000"/>
<circle cx="663.20" cy="1366.3" r="1.7" fill="#000"/>
<circle cx="669.00" cy="1366.3" r="1.7" fill="#000"/>
<circle cx="685.50" cy="1366.3" r="1.7" fill="#000"/>
<circle cx="691.60" cy="1366.3" r="1.7" fill="#000"/>
<circle cx="697.90" cy="1366.3" r="1.7" fill="#000"/>
<path d="M676.60,1369.80L680.10,1362.80L683.60,1369.80Z" fill="#fff" stroke="#000" stroke-width="2.1"/>
<text transform="translate(708.20,1372.29) scale(0.95,1)" font-size="14.5" text-anchor="start" font-weight="normal" fill="#383838" >198.9 <tspan textLength="13.5" lengthAdjust="spacingAndGlyphs">k&#937;</tspan></text>
<line x1="782" y1="1366.3" x2="827" y2="1366.3" stroke="#000" stroke-width="4.4" stroke-linecap="round"/>
<text transform="translate(832.50,1372.29) scale(0.95,1)" font-size="14.5" text-anchor="start" font-weight="normal" fill="#383838" >339.0 <tspan textLength="13.5" lengthAdjust="spacingAndGlyphs">k&#937;</tspan></text>
</svg>
</body></html>
